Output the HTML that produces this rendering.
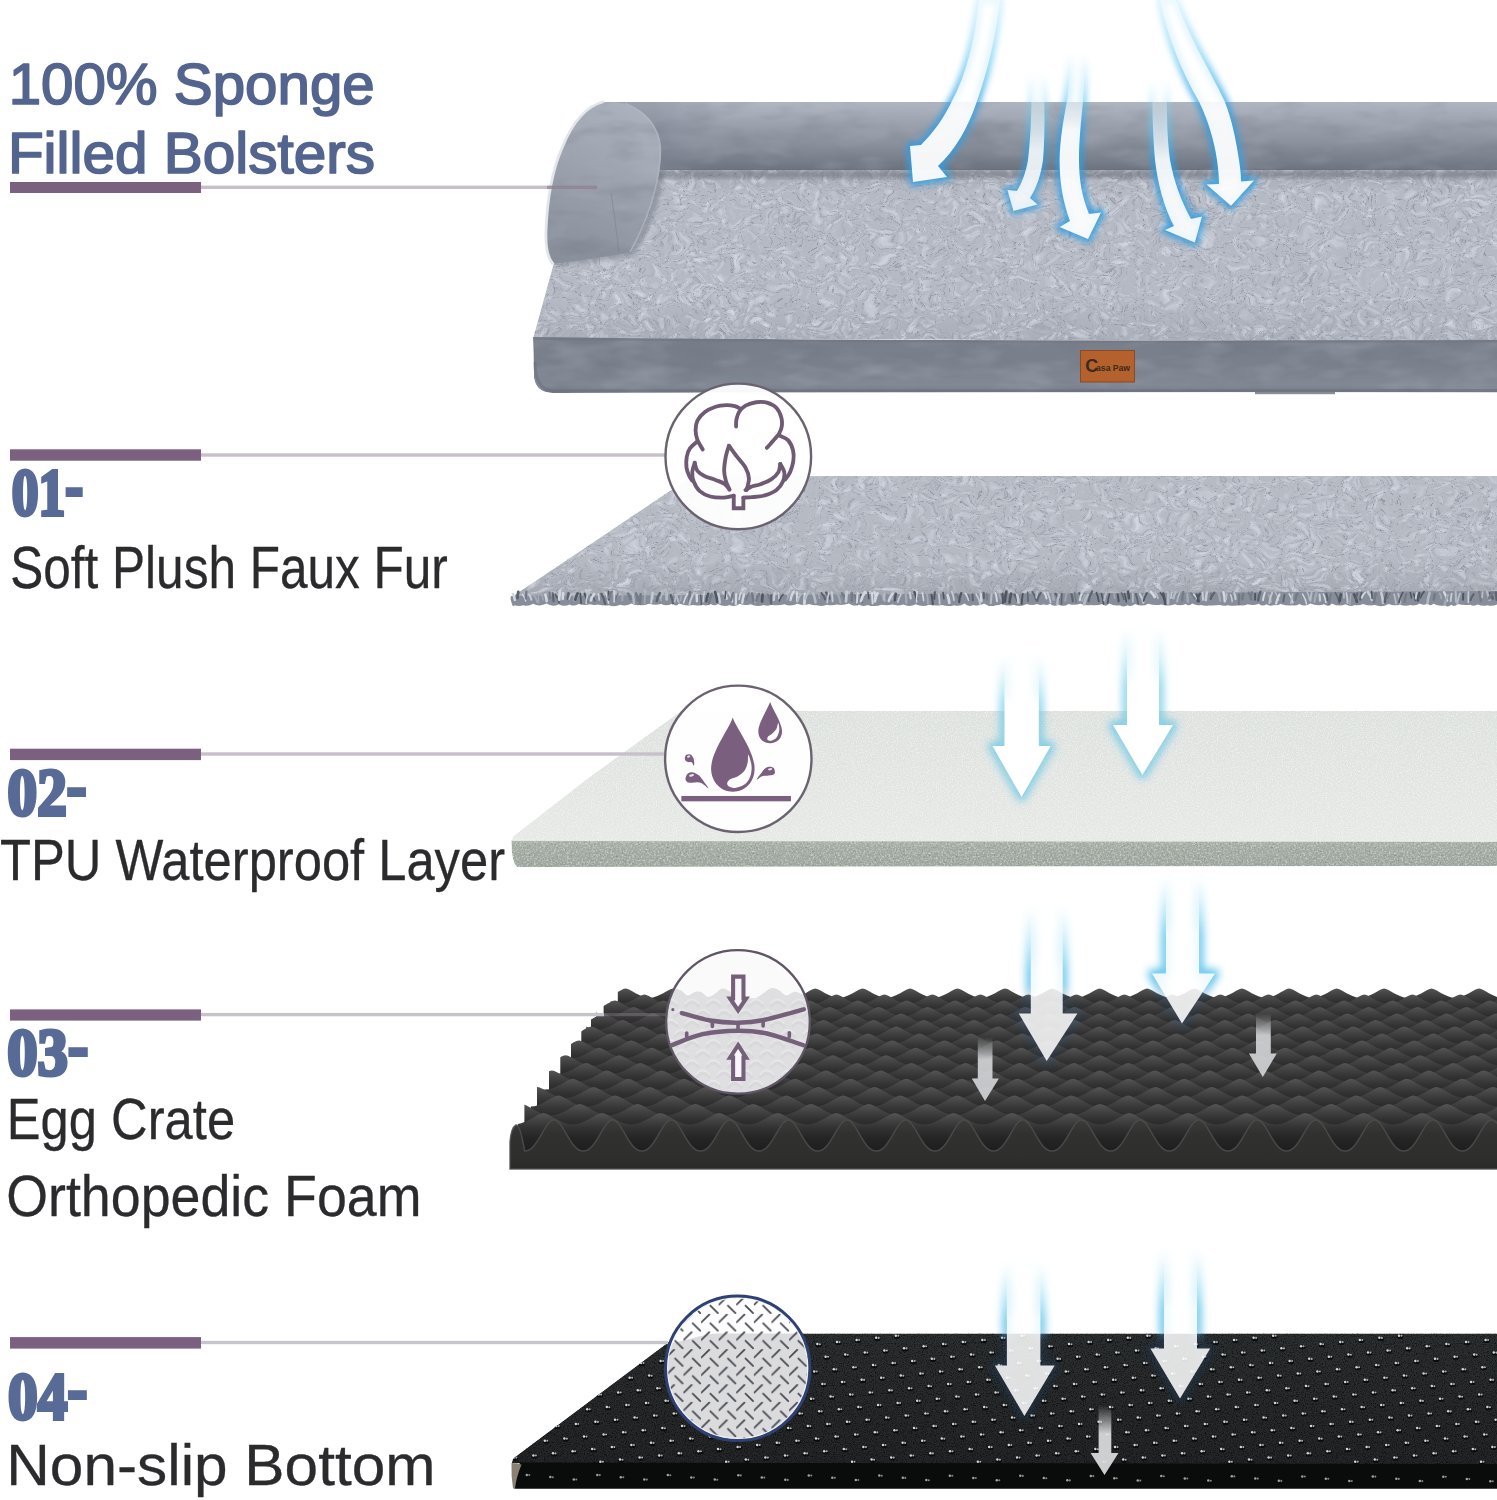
<!DOCTYPE html>
<html lang="en"><head><meta charset="utf-8"><title>Dog bed layers</title>
<style>html,body{margin:0;padding:0;background:#fff;overflow:hidden}svg{display:block}</style>
</head><body>
<svg width="1497" height="1500" viewBox="0 0 1497 1500">

<defs>
<filter id="fur" x="-4%" y="-12%" width="108%" height="124%" color-interpolation-filters="sRGB">
 <feTurbulence type="turbulence" baseFrequency="0.09 0.14" numOctaves="2" seed="3" result="n0"/>
 <feTurbulence type="fractalNoise" baseFrequency="0.035 0.05" numOctaves="2" seed="8" result="w"/>
 <feDisplacementMap in="n0" in2="w" scale="30" xChannelSelector="R" yChannelSelector="G" result="n"/>
 <feColorMatrix in="n" type="matrix" values="0 0 0 0 0.55  0 0 0 0 0.57  0 0 0 0 0.62  -6 0 0 0 0.62" result="d"/>
 <feColorMatrix in="n" type="matrix" values="0 0 0 0 0.55  0 0 0 0 0.57  0 0 0 0 0.62  0 -6 0 0 0.62" result="d2"/>
 <feColorMatrix in="n" type="matrix" values="0 0 0 0 0.82  0 0 0 0 0.84  0 0 0 0 0.88  0 0 1.8 0 -0.36" result="l"/>
 <feMerge result="m"><feMergeNode in="SourceGraphic"/><feMergeNode in="l"/><feMergeNode in="d"/><feMergeNode in="d2"/></feMerge>
 <feComposite in="m" in2="SourceAlpha" operator="in"/>
</filter>
<filter id="suede" x="0" y="0" width="100%" height="100%" color-interpolation-filters="sRGB">
 <feTurbulence type="fractalNoise" baseFrequency="0.018 0.05" numOctaves="3" seed="11" result="n"/>
 <feColorMatrix in="n" type="matrix" values="0 0 0 0 0.42  0 0 0 0 0.44  0 0 0 0 0.49  -0.8 0 0 0 0.42" result="d"/>
 <feColorMatrix in="n" type="matrix" values="0 0 0 0 0.70  0 0 0 0 0.72  0 0 0 0 0.76  0 0.8 0 0 -0.38" result="l"/>
 <feMerge result="m"><feMergeNode in="SourceGraphic"/><feMergeNode in="d"/><feMergeNode in="l"/></feMerge>
 <feComposite in="m" in2="SourceAlpha" operator="in"/>
</filter>
<filter id="grain" x="0" y="0" width="100%" height="100%" color-interpolation-filters="sRGB">
 <feTurbulence type="fractalNoise" baseFrequency="0.9" numOctaves="2" seed="5" result="n"/>
 <feColorMatrix in="n" type="matrix" values="0 0 0 0 0  0 0 0 0 0  0 0 0 0 0  -1.6 0 0 0 0.9" result="d"/>
 <feMerge result="m"><feMergeNode in="SourceGraphic"/><feMergeNode in="d"/></feMerge>
 <feComposite in="m" in2="SourceAlpha" operator="in"/>
</filter>
<filter id="grainT" x="0" y="0" width="100%" height="100%" color-interpolation-filters="sRGB">
 <feTurbulence type="fractalNoise" baseFrequency="0.55" numOctaves="2" seed="5" result="n"/>
 <feColorMatrix in="n" type="matrix" values="0 0 0 0 0.50  0 0 0 0 0.54  0 0 0 0 0.50  -2.2 0 0 0 1.0" result="d"/>
 <feColorMatrix in="n" type="matrix" values="0 0 0 0 0.82  0 0 0 0 0.85  0 0 0 0 0.82  0 2.2 0 0 -1.0" result="l"/>
 <feMerge result="m"><feMergeNode in="SourceGraphic"/><feMergeNode in="d"/><feMergeNode in="l"/></feMerge>
 <feComposite in="m" in2="SourceAlpha" operator="in"/>
</filter>
<filter id="grainL" x="0" y="0" width="100%" height="100%" color-interpolation-filters="sRGB">
 <feTurbulence type="fractalNoise" baseFrequency="0.8" numOctaves="2" seed="9" result="n"/>
 <feColorMatrix in="n" type="matrix" values="0 0 0 0 1  0 0 0 0 1  0 0 0 0 1  1.4 0 0 0 -0.62" result="d"/>
 <feMerge result="m"><feMergeNode in="SourceGraphic"/><feMergeNode in="d"/></feMerge>
 <feComposite in="m" in2="SourceAlpha" operator="in"/>
</filter>
<filter id="b2" x="-20%" y="-20%" width="140%" height="140%"><feGaussianBlur stdDeviation="2"/></filter>
<filter id="b3" x="-30%" y="-30%" width="160%" height="160%"><feGaussianBlur stdDeviation="3.2"/></filter>
<filter id="b4" x="-40%" y="-40%" width="180%" height="180%"><feGaussianBlur stdDeviation="4"/></filter>
<filter id="b5" x="-40%" y="-40%" width="180%" height="180%"><feGaussianBlur stdDeviation="5"/></filter>
<filter id="b8" x="-40%" y="-40%" width="180%" height="180%"><feGaussianBlur stdDeviation="8"/></filter>
<filter id="b1" x="-10%" y="-10%" width="120%" height="120%"><feGaussianBlur stdDeviation="0.7"/></filter>

<linearGradient id="gBack" x1="0" y1="102" x2="0" y2="174" gradientUnits="userSpaceOnUse">
 <stop offset="0" stop-color="#b0b6c1"/><stop offset="0.12" stop-color="#a8aeb9"/><stop offset="0.35" stop-color="#989eaa"/><stop offset="0.6" stop-color="#888e9a"/><stop offset="0.82" stop-color="#777d89"/><stop offset="1" stop-color="#686e79"/>
</linearGradient>
<linearGradient id="gArm" x1="640" y1="105" x2="560" y2="265" gradientUnits="userSpaceOnUse">
 <stop offset="0" stop-color="#adb3be"/><stop offset="0.45" stop-color="#9da3ae"/><stop offset="1" stop-color="#888e99"/>
</linearGradient>
<linearGradient id="gArmSh" x1="655" y1="0" x2="720" y2="0" gradientUnits="userSpaceOnUse">
 <stop offset="0" stop-color="#7b8290" stop-opacity=".4"/><stop offset="1" stop-color="#7b8290" stop-opacity="0"/>
</linearGradient>
<linearGradient id="gFront" x1="0" y1="338" x2="0" y2="393" gradientUnits="userSpaceOnUse">
 <stop offset="0" stop-color="#787e8a"/><stop offset="0.5" stop-color="#7a808c"/><stop offset="0.85" stop-color="#828894"/><stop offset="1" stop-color="#777d89"/>
</linearGradient>
<linearGradient id="gFurTop" x1="0" y1="172" x2="0" y2="340" gradientUnits="userSpaceOnUse">
 <stop offset="0" stop-color="#a4a9b3"/><stop offset="0.12" stop-color="#b4b9c3"/><stop offset="0.75" stop-color="#b4b9c3"/><stop offset="1" stop-color="#a9aeb8"/>
</linearGradient>
<linearGradient id="gMat" x1="0" y1="476" x2="0" y2="598" gradientUnits="userSpaceOnUse">
 <stop offset="0" stop-color="#b6bbc4"/><stop offset="0.7" stop-color="#b4b9c2"/><stop offset="1" stop-color="#a2a7b0"/>
</linearGradient>
<linearGradient id="gTpu" x1="0" y1="711" x2="0" y2="841" gradientUnits="userSpaceOnUse">
 <stop offset="0" stop-color="#dde1de"/><stop offset="1" stop-color="#e5e8e5"/>
</linearGradient>
<linearGradient id="gNS" x1="0" y1="1334" x2="0" y2="1464" gradientUnits="userSpaceOnUse"><stop offset="0" stop-color="#2d3031"/><stop offset="1" stop-color="#232526"/></linearGradient>
<linearGradient id="gTpuF" x1="0" y1="840" x2="0" y2="867" gradientUnits="userSpaceOnUse">
 <stop offset="0" stop-color="#adb4ac"/><stop offset="0.3" stop-color="#a4aba3"/><stop offset="1" stop-color="#9fa69f"/>
</linearGradient>
</defs>

<g id="bed">
<path d="M612,102 L1497,102 L1497,176 L640,176 Z" fill="url(#gBack)" filter="url(#suede)"/>
<path d="M606,102 L720,102 L720,176 L606,176 Z" fill="url(#gArmSh)"/>
<path d="M640,170 L1497,170 L1497,341.5 L533,338.5 L554,262 L628,253 Z" fill="url(#gFurTop)" filter="url(#fur)"/>
<path d="M650,171 L1497,171 L1497,178 L650,178 Z" fill="#5e646f" opacity="0.45" filter="url(#b2)"/>
<path d="M664,172 Q660,215 633,256 L556,267 L556,262 L628,250 Q652,210 656,172 Z" fill="#6a717e" opacity="0.45" filter="url(#b2)"/>
<path d="M533,337 Q900,341.5 1497,340 L1497,392.5 Q900,392 552,393 Q536,392 534,378 Z" fill="url(#gFront)" filter="url(#suede)"/>
<path d="M535,362 Q535,390 553,390.8 Q900,390 1497,390.5" stroke="#666c78" stroke-width="3" fill="none" opacity=".5" filter="url(#b1)"/>
<path d="M535,338.5 Q900,342.5 1497,341" stroke="#6f7581" stroke-width="2.4" fill="none" opacity=".55"/>
<path d="M603,102 Q625,100 641,111 Q664,128 661,158 Q657,205 631,253 L556,264 Q545,262 546,230 Q548,180 562,148 Q578,108 603,102 Z" fill="url(#gArm)" filter="url(#suede)"/>
<path d="M625,103 Q664,120 660,160 Q656,205 630,252" stroke="#b0b6c1" stroke-width="1.6" fill="none" opacity=".8"/>
<path d="M604,101.5 Q578,108 562,148 Q548,180 546,230 Q545,255 553,264" stroke="#e2e6ec" stroke-width="2.8" fill="none"/>
<path d="M611,193 Q616,225 619,254" stroke="#7d8491" stroke-width="1.1" fill="none" opacity=".6"/>
<rect x="1255" y="392" width="80" height="2.2" fill="#5a606b" opacity=".7"/>
<rect x="1080.5" y="350.5" width="54" height="31.5" fill="#b4612d" stroke="#8a4a25" stroke-width="1"/>
<text x="1085.3" y="372.3" font-family="'Liberation Sans',sans-serif" font-weight="bold" font-size="8.6" fill="#3b2a1f"><tspan font-size="18">C</tspan><tspan dx="-2.2" dy="-1.2">asa Paw</tspan></text>
</g>
<g id="mat">
<path d="M692,476 L1497,476 L1497,598 L510,598 Z" fill="url(#gMat)" filter="url(#fur)"/>
<path d="M511,596 L1497,591 L1497,604.5 Q1492.2,606.7 1487.4,605.2 Q1482.5,606.6 1477.7,604.6 Q1473.9,606.6 1470.2,604.7 Q1464.0,605.7 1457.8,604.0 Q1454.5,607.3 1451.1,604.8 Q1447.9,607.7 1444.8,605.3 Q1439.2,606.9 1433.5,603.7 Q1430.5,606.7 1427.4,603.5 Q1423.7,606.0 1419.9,603.5 Q1415.0,606.5 1410.2,605.1 Q1405.1,606.9 1400.0,604.4 Q1394.4,606.5 1388.7,604.0 Q1381.7,607.7 1374.8,605.1 Q1368.9,606.2 1363.1,603.9 Q1358.9,605.7 1354.8,604.9 Q1350.2,607.4 1345.6,604.2 Q1338.7,607.4 1331.9,603.4 Q1328.1,607.5 1324.2,604.3 Q1317.3,606.4 1310.4,603.5 Q1304.9,607.2 1299.4,603.9 Q1296.0,606.2 1292.7,605.3 Q1286.6,605.8 1280.6,603.9 Q1277.2,605.6 1273.8,605.0 Q1270.1,606.7 1266.4,604.3 Q1262.6,607.1 1258.8,603.7 Q1253.3,605.8 1247.7,604.2 Q1243.8,606.1 1240.0,605.3 Q1233.8,606.2 1227.6,605.2 Q1223.7,606.4 1219.9,605.1 Q1214.3,605.7 1208.7,605.4 Q1204.9,606.1 1201.0,604.9 Q1196.7,606.2 1192.4,603.5 Q1189.0,606.8 1185.7,603.9 Q1180.3,606.3 1174.9,604.3 Q1168.0,606.6 1161.2,604.5 Q1154.7,605.9 1148.3,603.7 Q1141.6,607.3 1135.0,603.9 Q1131.2,607.1 1127.5,605.3 Q1123.7,607.6 1119.9,605.2 Q1114.5,606.4 1109.1,603.6 Q1105.9,607.6 1102.8,603.9 Q1097.0,606.1 1091.1,605.0 Q1085.7,606.1 1080.4,603.8 Q1074.5,605.7 1068.6,603.9 Q1063.4,607.4 1058.1,604.6 Q1054.0,607.5 1049.9,603.8 Q1046.8,606.1 1043.7,604.3 Q1040.5,605.9 1037.3,604.1 Q1032.0,605.8 1026.7,604.1 Q1020.1,607.7 1013.6,604.7 Q1007.8,606.8 1002.0,603.7 Q998.9,605.5 995.8,605.2 Q989.9,607.6 984.1,603.4 Q978.6,606.6 973.1,604.9 Q968.8,607.7 964.5,603.6 Q959.3,607.1 954.1,605.2 Q948.2,607.0 942.2,605.0 Q935.6,606.3 928.9,604.8 Q922.3,607.4 915.7,604.2 Q909.5,607.4 903.4,604.5 Q897.9,606.3 892.4,604.6 Q887.0,605.7 881.5,604.7 Q874.5,607.4 867.6,604.9 Q863.0,607.1 858.5,604.6 Q853.7,607.3 848.9,603.6 Q842.9,605.6 836.9,604.6 Q832.0,606.0 827.1,604.8 Q822.1,606.9 817.1,605.2 Q813.1,605.5 809.1,604.0 Q803.4,605.9 797.6,603.7 Q791.0,607.0 784.4,604.3 Q777.8,606.2 771.3,604.7 Q767.5,606.4 763.7,605.0 Q757.0,607.4 750.4,604.2 Q745.0,606.2 739.7,603.7 Q734.7,607.3 729.7,605.1 Q723.9,607.6 718.0,604.0 Q714.4,606.5 710.7,604.0 Q706.8,606.4 703.0,604.7 Q698.0,606.2 693.0,605.1 Q686.1,606.5 679.2,603.5 Q676.0,607.4 672.9,603.5 Q667.1,606.8 661.2,604.0 Q655.1,605.5 648.9,603.7 Q644.1,605.6 639.3,605.1 Q635.3,605.8 631.4,603.5 Q625.8,606.5 620.3,604.7 Q614.7,607.3 609.1,605.3 Q603.4,605.9 597.6,604.4 Q593.9,605.5 590.2,604.3 Q584.3,605.9 578.5,603.9 Q574.1,607.0 569.7,604.4 Q564.2,607.2 558.8,604.2 Q552.6,607.5 546.5,603.6 Q539.7,607.1 533.0,603.7 Q528.2,606.9 523.4,605.2 Q518.9,606.8 514.4,605.2 Q513.2,607.6 512.0,604.3 L510.5,599 Z" fill="#878e9a"/>
<path d="M513.0,593.8 q1.4,3.1 1.8,6.1" stroke="#d3d8df" stroke-width="2.5" fill="none" stroke-linecap="round"/>
<path d="M518.3,591.9 q-0.7,3.2 -0.9,6.3" stroke="#5d6470" stroke-width="2.8" fill="none" stroke-linecap="round"/>
<path d="M522.4,594.3 q2.6,3.4 3.3,6.8" stroke="#d3d8df" stroke-width="1.4" fill="none" stroke-linecap="round"/>
<path d="M526.4,591.6 q-0.5,3.4 -0.6,6.9" stroke="#747b87" stroke-width="2.1" fill="none" stroke-linecap="round"/>
<path d="M529.0,594.3 q1.9,2.7 2.4,5.4" stroke="#c6ccd5" stroke-width="2.1" fill="none" stroke-linecap="round"/>
<path d="M533.5,594.7 q3.2,3.8 4.0,7.6" stroke="#a3aab5" stroke-width="2.1" fill="none" stroke-linecap="round"/>
<path d="M538.1,593.0 q0.5,4.9 0.6,9.8" stroke="#a3aab5" stroke-width="1.5" fill="none" stroke-linecap="round"/>
<path d="M541.2,593.3 q1.5,3.3 1.8,6.6" stroke="#a3aab5" stroke-width="1.6" fill="none" stroke-linecap="round"/>
<path d="M545.3,594.7 q1.1,3.2 1.4,6.4" stroke="#d3d8df" stroke-width="2.6" fill="none" stroke-linecap="round"/>
<path d="M549.6,592.6 q0.3,2.9 0.4,5.8" stroke="#747b87" stroke-width="2.2" fill="none" stroke-linecap="round"/>
<path d="M552.7,593.4 q0.7,3.9 0.8,7.8" stroke="#5d6470" stroke-width="2.2" fill="none" stroke-linecap="round"/>
<path d="M555.3,594.7 q3.1,4.0 3.9,8.0" stroke="#5d6470" stroke-width="2.1" fill="none" stroke-linecap="round"/>
<path d="M559.9,591.7 q-0.6,4.0 -0.7,8.0" stroke="#d3d8df" stroke-width="2.7" fill="none" stroke-linecap="round"/>
<path d="M563.2,593.2 q-0.4,2.8 -0.5,5.7" stroke="#d3d8df" stroke-width="2.7" fill="none" stroke-linecap="round"/>
<path d="M568.5,593.3 q-0.5,2.8 -0.6,5.6" stroke="#5d6470" stroke-width="2.7" fill="none" stroke-linecap="round"/>
<path d="M571.4,594.2 q-2.0,2.6 -2.4,5.1" stroke="#c6ccd5" stroke-width="1.4" fill="none" stroke-linecap="round"/>
<path d="M574.7,594.0 q-0.0,3.2 -0.0,6.3" stroke="#b6bcc6" stroke-width="2.4" fill="none" stroke-linecap="round"/>
<path d="M577.6,593.3 q-1.9,3.2 -2.4,6.4" stroke="#4f5661" stroke-width="2.6" fill="none" stroke-linecap="round"/>
<path d="M580.2,593.7 q0.7,4.8 0.9,9.5" stroke="#4f5661" stroke-width="1.7" fill="none" stroke-linecap="round"/>
<path d="M584.6,593.7 q2.2,4.0 2.8,7.9" stroke="#4f5661" stroke-width="2.2" fill="none" stroke-linecap="round"/>
<path d="M587.5,594.7 q-1.0,4.2 -1.2,8.5" stroke="#c6ccd5" stroke-width="1.8" fill="none" stroke-linecap="round"/>
<path d="M590.9,594.7 q3.2,3.1 4.0,6.2" stroke="#5d6470" stroke-width="1.6" fill="none" stroke-linecap="round"/>
<path d="M594.1,594.0 q-2.6,3.2 -3.2,6.4" stroke="#d3d8df" stroke-width="2.7" fill="none" stroke-linecap="round"/>
<path d="M598.3,594.0 q0.8,3.1 1.0,6.1" stroke="#d3d8df" stroke-width="1.4" fill="none" stroke-linecap="round"/>
<path d="M601.4,593.9 q3.0,5.0 3.7,10.0" stroke="#5d6470" stroke-width="2.4" fill="none" stroke-linecap="round"/>
<path d="M605.8,592.7 q2.1,5.2 2.7,10.5" stroke="#d3d8df" stroke-width="1.5" fill="none" stroke-linecap="round"/>
<path d="M608.6,591.6 q0.1,4.0 0.1,8.0" stroke="#4f5661" stroke-width="2.1" fill="none" stroke-linecap="round"/>
<path d="M611.7,591.9 q-2.2,3.0 -2.7,5.9" stroke="#747b87" stroke-width="2.7" fill="none" stroke-linecap="round"/>
<path d="M614.4,591.7 q-0.2,5.1 -0.3,10.2" stroke="#d3d8df" stroke-width="1.5" fill="none" stroke-linecap="round"/>
<path d="M618.1,593.0 q-1.9,3.5 -2.3,7.0" stroke="#747b87" stroke-width="1.4" fill="none" stroke-linecap="round"/>
<path d="M622.7,594.5 q-0.3,3.0 -0.4,6.0" stroke="#a3aab5" stroke-width="1.9" fill="none" stroke-linecap="round"/>
<path d="M628.0,593.6 q1.9,2.8 2.3,5.5" stroke="#747b87" stroke-width="2.7" fill="none" stroke-linecap="round"/>
<path d="M632.9,594.0 q0.8,4.9 1.0,9.7" stroke="#b6bcc6" stroke-width="2.2" fill="none" stroke-linecap="round"/>
<path d="M636.0,593.5 q1.7,3.4 2.1,6.9" stroke="#747b87" stroke-width="2.7" fill="none" stroke-linecap="round"/>
<path d="M640.7,594.2 q-0.6,4.7 -0.8,9.5" stroke="#747b87" stroke-width="2.6" fill="none" stroke-linecap="round"/>
<path d="M645.3,594.2 q-0.6,4.6 -0.8,9.2" stroke="#a3aab5" stroke-width="1.7" fill="none" stroke-linecap="round"/>
<path d="M650.2,592.6 q2.5,2.8 3.1,5.6" stroke="#a3aab5" stroke-width="2.7" fill="none" stroke-linecap="round"/>
<path d="M652.8,592.5 q-1.3,5.1 -1.6,10.3" stroke="#c6ccd5" stroke-width="2.3" fill="none" stroke-linecap="round"/>
<path d="M657.0,593.4 q3.2,3.6 4.0,7.1" stroke="#a3aab5" stroke-width="1.7" fill="none" stroke-linecap="round"/>
<path d="M659.9,592.9 q-2.5,4.1 -3.1,8.2" stroke="#5d6470" stroke-width="2.4" fill="none" stroke-linecap="round"/>
<path d="M663.2,592.9 q-1.9,2.6 -2.4,5.3" stroke="#b6bcc6" stroke-width="1.4" fill="none" stroke-linecap="round"/>
<path d="M666.4,592.5 q0.3,3.4 0.3,6.9" stroke="#b6bcc6" stroke-width="2.8" fill="none" stroke-linecap="round"/>
<path d="M670.6,595.0 q2.0,4.3 2.5,8.5" stroke="#5d6470" stroke-width="2.2" fill="none" stroke-linecap="round"/>
<path d="M675.1,594.8 q2.8,3.6 3.5,7.1" stroke="#b6bcc6" stroke-width="2.1" fill="none" stroke-linecap="round"/>
<path d="M678.1,593.2 q-2.8,4.2 -3.5,8.4" stroke="#b6bcc6" stroke-width="2.0" fill="none" stroke-linecap="round"/>
<path d="M682.2,593.6 q-1.4,3.5 -1.7,7.0" stroke="#a3aab5" stroke-width="1.8" fill="none" stroke-linecap="round"/>
<path d="M687.5,593.8 q-3.0,4.6 -3.8,9.1" stroke="#d3d8df" stroke-width="1.7" fill="none" stroke-linecap="round"/>
<path d="M690.1,592.0 q-0.7,4.6 -0.9,9.2" stroke="#747b87" stroke-width="2.4" fill="none" stroke-linecap="round"/>
<path d="M692.8,595.0 q-2.7,5.1 -3.4,9.5" stroke="#c6ccd5" stroke-width="2.0" fill="none" stroke-linecap="round"/>
<path d="M696.7,594.9 q0.1,3.2 0.2,6.3" stroke="#d3d8df" stroke-width="2.4" fill="none" stroke-linecap="round"/>
<path d="M700.6,594.9 q0.7,4.7 0.8,9.5" stroke="#5d6470" stroke-width="1.5" fill="none" stroke-linecap="round"/>
<path d="M704.4,591.9 q-0.9,4.9 -1.1,9.7" stroke="#c6ccd5" stroke-width="1.6" fill="none" stroke-linecap="round"/>
<path d="M708.2,593.8 q-1.5,3.8 -1.9,7.5" stroke="#4f5661" stroke-width="2.4" fill="none" stroke-linecap="round"/>
<path d="M711.8,594.1 q-2.3,4.7 -2.9,9.5" stroke="#747b87" stroke-width="2.4" fill="none" stroke-linecap="round"/>
<path d="M715.0,591.9 q1.8,5.0 2.3,9.9" stroke="#4f5661" stroke-width="2.6" fill="none" stroke-linecap="round"/>
<path d="M718.3,593.6 q1.3,4.5 1.6,9.0" stroke="#c6ccd5" stroke-width="2.3" fill="none" stroke-linecap="round"/>
<path d="M723.1,592.2 q3.1,3.2 3.8,6.4" stroke="#c6ccd5" stroke-width="2.6" fill="none" stroke-linecap="round"/>
<path d="M725.7,591.7 q-0.5,3.2 -0.6,6.5" stroke="#4f5661" stroke-width="1.5" fill="none" stroke-linecap="round"/>
<path d="M728.9,592.5 q2.6,4.6 3.3,9.2" stroke="#c6ccd5" stroke-width="2.2" fill="none" stroke-linecap="round"/>
<path d="M733.3,592.8 q-1.9,3.8 -2.3,7.6" stroke="#747b87" stroke-width="2.1" fill="none" stroke-linecap="round"/>
<path d="M736.2,594.5 q-0.3,4.7 -0.4,9.4" stroke="#d3d8df" stroke-width="2.3" fill="none" stroke-linecap="round"/>
<path d="M741.0,592.2 q-1.5,3.7 -1.9,7.3" stroke="#d3d8df" stroke-width="1.6" fill="none" stroke-linecap="round"/>
<path d="M744.0,594.4 q-1.3,4.1 -1.7,8.3" stroke="#d3d8df" stroke-width="2.4" fill="none" stroke-linecap="round"/>
<path d="M749.2,593.0 q-2.6,3.5 -3.2,7.0" stroke="#747b87" stroke-width="1.5" fill="none" stroke-linecap="round"/>
<path d="M752.0,593.5 q1.2,3.8 1.5,7.7" stroke="#747b87" stroke-width="2.6" fill="none" stroke-linecap="round"/>
<path d="M754.5,592.6 q0.7,5.0 0.8,10.0" stroke="#a3aab5" stroke-width="1.8" fill="none" stroke-linecap="round"/>
<path d="M759.2,593.9 q-2.3,3.3 -2.9,6.6" stroke="#747b87" stroke-width="2.3" fill="none" stroke-linecap="round"/>
<path d="M762.6,594.7 q-0.4,3.4 -0.5,6.8" stroke="#4f5661" stroke-width="2.7" fill="none" stroke-linecap="round"/>
<path d="M768.0,594.7 q1.9,3.7 2.4,7.4" stroke="#747b87" stroke-width="2.0" fill="none" stroke-linecap="round"/>
<path d="M771.1,594.9 q0.1,4.5 0.1,9.0" stroke="#5d6470" stroke-width="1.9" fill="none" stroke-linecap="round"/>
<path d="M774.7,592.8 q-0.7,3.6 -0.9,7.2" stroke="#c6ccd5" stroke-width="2.4" fill="none" stroke-linecap="round"/>
<path d="M778.3,592.9 q0.6,2.9 0.7,5.9" stroke="#c6ccd5" stroke-width="1.6" fill="none" stroke-linecap="round"/>
<path d="M783.1,594.6 q-3.1,3.3 -3.8,6.5" stroke="#4f5661" stroke-width="1.5" fill="none" stroke-linecap="round"/>
<path d="M786.1,592.5 q2.2,2.6 2.7,5.1" stroke="#b6bcc6" stroke-width="1.5" fill="none" stroke-linecap="round"/>
<path d="M790.2,594.3 q-2.7,2.7 -3.3,5.5" stroke="#a3aab5" stroke-width="1.5" fill="none" stroke-linecap="round"/>
<path d="M793.7,591.6 q-2.6,4.3 -3.2,8.6" stroke="#d3d8df" stroke-width="2.3" fill="none" stroke-linecap="round"/>
<path d="M796.9,592.3 q0.1,4.6 0.2,9.2" stroke="#d3d8df" stroke-width="2.0" fill="none" stroke-linecap="round"/>
<path d="M800.5,594.3 q-2.3,3.4 -2.9,6.8" stroke="#b6bcc6" stroke-width="2.2" fill="none" stroke-linecap="round"/>
<path d="M805.1,594.0 q-0.6,5.0 -0.7,10.0" stroke="#d3d8df" stroke-width="2.8" fill="none" stroke-linecap="round"/>
<path d="M808.7,591.5 q-2.6,3.5 -3.3,7.1" stroke="#b6bcc6" stroke-width="2.7" fill="none" stroke-linecap="round"/>
<path d="M813.1,593.3 q1.9,4.5 2.4,8.9" stroke="#b6bcc6" stroke-width="2.7" fill="none" stroke-linecap="round"/>
<path d="M818.3,592.4 q0.9,2.9 1.1,5.9" stroke="#a3aab5" stroke-width="1.6" fill="none" stroke-linecap="round"/>
<path d="M821.4,593.0 q3.0,3.3 3.8,6.6" stroke="#5d6470" stroke-width="2.1" fill="none" stroke-linecap="round"/>
<path d="M826.1,592.6 q2.7,2.9 3.4,5.9" stroke="#5d6470" stroke-width="2.5" fill="none" stroke-linecap="round"/>
<path d="M828.7,593.2 q-1.2,4.7 -1.5,9.4" stroke="#c6ccd5" stroke-width="1.7" fill="none" stroke-linecap="round"/>
<path d="M831.8,592.3 q0.6,4.5 0.8,8.9" stroke="#c6ccd5" stroke-width="2.0" fill="none" stroke-linecap="round"/>
<path d="M837.0,592.9 q2.8,5.0 3.5,10.0" stroke="#a3aab5" stroke-width="2.2" fill="none" stroke-linecap="round"/>
<path d="M842.0,593.2 q2.5,3.2 3.1,6.4" stroke="#747b87" stroke-width="2.3" fill="none" stroke-linecap="round"/>
<path d="M846.8,591.8 q-0.6,4.9 -0.8,9.7" stroke="#c6ccd5" stroke-width="2.7" fill="none" stroke-linecap="round"/>
<path d="M851.7,592.8 q0.1,4.0 0.1,7.9" stroke="#747b87" stroke-width="2.5" fill="none" stroke-linecap="round"/>
<path d="M854.4,594.7 q2.4,5.0 3.0,9.8" stroke="#747b87" stroke-width="2.0" fill="none" stroke-linecap="round"/>
<path d="M857.6,593.0 q-0.5,4.9 -0.7,9.8" stroke="#d3d8df" stroke-width="1.9" fill="none" stroke-linecap="round"/>
<path d="M860.9,594.5 q0.9,3.9 1.1,7.8" stroke="#4f5661" stroke-width="1.8" fill="none" stroke-linecap="round"/>
<path d="M865.0,592.0 q-3.2,4.6 -4.0,9.2" stroke="#d3d8df" stroke-width="2.7" fill="none" stroke-linecap="round"/>
<path d="M867.9,591.9 q0.7,3.5 0.9,6.9" stroke="#4f5661" stroke-width="1.5" fill="none" stroke-linecap="round"/>
<path d="M871.9,593.1 q0.6,5.1 0.7,10.3" stroke="#d3d8df" stroke-width="2.1" fill="none" stroke-linecap="round"/>
<path d="M874.4,592.2 q1.2,3.0 1.5,6.1" stroke="#d3d8df" stroke-width="2.6" fill="none" stroke-linecap="round"/>
<path d="M877.6,593.4 q-2.2,3.9 -2.7,7.9" stroke="#d3d8df" stroke-width="2.7" fill="none" stroke-linecap="round"/>
<path d="M881.0,592.9 q3.2,4.0 4.0,8.1" stroke="#a3aab5" stroke-width="2.4" fill="none" stroke-linecap="round"/>
<path d="M884.6,593.9 q-0.7,2.8 -0.8,5.6" stroke="#b6bcc6" stroke-width="2.4" fill="none" stroke-linecap="round"/>
<path d="M889.4,591.9 q2.3,3.7 2.9,7.4" stroke="#a3aab5" stroke-width="2.4" fill="none" stroke-linecap="round"/>
<path d="M892.7,593.5 q-3.1,3.8 -3.9,7.5" stroke="#d3d8df" stroke-width="2.5" fill="none" stroke-linecap="round"/>
<path d="M895.8,593.7 q-0.8,3.3 -1.0,6.6" stroke="#4f5661" stroke-width="2.4" fill="none" stroke-linecap="round"/>
<path d="M901.1,594.1 q-2.6,4.0 -3.3,8.1" stroke="#c6ccd5" stroke-width="1.7" fill="none" stroke-linecap="round"/>
<path d="M905.8,592.7 q0.4,5.1 0.5,10.2" stroke="#a3aab5" stroke-width="2.3" fill="none" stroke-linecap="round"/>
<path d="M909.7,592.8 q0.8,2.8 1.0,5.6" stroke="#c6ccd5" stroke-width="2.3" fill="none" stroke-linecap="round"/>
<path d="M914.3,592.1 q2.2,3.6 2.7,7.2" stroke="#4f5661" stroke-width="2.4" fill="none" stroke-linecap="round"/>
<path d="M917.1,591.6 q-0.4,5.2 -0.5,10.4" stroke="#d3d8df" stroke-width="1.5" fill="none" stroke-linecap="round"/>
<path d="M922.4,593.0 q0.9,3.9 1.2,7.8" stroke="#d3d8df" stroke-width="1.6" fill="none" stroke-linecap="round"/>
<path d="M926.9,593.2 q0.8,5.0 1.0,10.1" stroke="#a3aab5" stroke-width="2.0" fill="none" stroke-linecap="round"/>
<path d="M931.5,594.9 q1.0,4.7 1.3,9.3" stroke="#4f5661" stroke-width="2.1" fill="none" stroke-linecap="round"/>
<path d="M934.8,592.2 q-0.4,3.3 -0.5,6.7" stroke="#4f5661" stroke-width="1.9" fill="none" stroke-linecap="round"/>
<path d="M938.8,594.3 q0.7,4.8 0.9,9.5" stroke="#c6ccd5" stroke-width="1.8" fill="none" stroke-linecap="round"/>
<path d="M943.0,592.5 q0.7,3.1 0.9,6.3" stroke="#4f5661" stroke-width="1.6" fill="none" stroke-linecap="round"/>
<path d="M947.6,595.0 q1.4,3.9 1.7,7.8" stroke="#d3d8df" stroke-width="2.7" fill="none" stroke-linecap="round"/>
<path d="M951.8,591.6 q1.8,4.3 2.2,8.6" stroke="#c6ccd5" stroke-width="1.7" fill="none" stroke-linecap="round"/>
<path d="M956.0,593.9 q2.7,3.4 3.4,6.8" stroke="#747b87" stroke-width="1.8" fill="none" stroke-linecap="round"/>
<path d="M961.2,593.1 q-1.7,4.5 -2.1,9.0" stroke="#4f5661" stroke-width="2.2" fill="none" stroke-linecap="round"/>
<path d="M965.4,593.5 q2.6,3.2 3.3,6.5" stroke="#d3d8df" stroke-width="1.9" fill="none" stroke-linecap="round"/>
<path d="M968.3,594.8 q1.2,2.5 1.5,5.0" stroke="#747b87" stroke-width="1.7" fill="none" stroke-linecap="round"/>
<path d="M972.5,594.4 q0.3,3.0 0.4,6.0" stroke="#5d6470" stroke-width="2.0" fill="none" stroke-linecap="round"/>
<path d="M976.2,594.2 q3.2,5.1 4.0,10.1" stroke="#c6ccd5" stroke-width="1.8" fill="none" stroke-linecap="round"/>
<path d="M980.7,594.1 q0.6,3.5 0.7,7.1" stroke="#d3d8df" stroke-width="2.5" fill="none" stroke-linecap="round"/>
<path d="M983.7,592.9 q0.2,2.6 0.2,5.2" stroke="#5d6470" stroke-width="2.2" fill="none" stroke-linecap="round"/>
<path d="M986.7,593.3 q0.4,3.2 0.5,6.5" stroke="#747b87" stroke-width="1.5" fill="none" stroke-linecap="round"/>
<path d="M991.6,594.0 q-0.6,4.7 -0.8,9.3" stroke="#b6bcc6" stroke-width="2.2" fill="none" stroke-linecap="round"/>
<path d="M995.5,592.9 q1.2,4.2 1.5,8.4" stroke="#d3d8df" stroke-width="2.0" fill="none" stroke-linecap="round"/>
<path d="M998.8,594.6 q2.6,3.8 3.2,7.5" stroke="#a3aab5" stroke-width="2.0" fill="none" stroke-linecap="round"/>
<path d="M1002.6,593.5 q0.2,5.0 0.2,10.0" stroke="#4f5661" stroke-width="2.1" fill="none" stroke-linecap="round"/>
<path d="M1006.4,591.6 q-1.3,5.0 -1.6,10.0" stroke="#4f5661" stroke-width="2.7" fill="none" stroke-linecap="round"/>
<path d="M1011.1,593.6 q-1.2,4.6 -1.6,9.1" stroke="#4f5661" stroke-width="2.6" fill="none" stroke-linecap="round"/>
<path d="M1014.3,594.5 q2.4,3.2 3.0,6.3" stroke="#5d6470" stroke-width="2.1" fill="none" stroke-linecap="round"/>
<path d="M1017.2,594.7 q1.0,4.0 1.3,8.0" stroke="#c6ccd5" stroke-width="2.6" fill="none" stroke-linecap="round"/>
<path d="M1022.7,594.1 q-0.8,4.9 -1.0,9.8" stroke="#4f5661" stroke-width="2.0" fill="none" stroke-linecap="round"/>
<path d="M1027.6,592.3 q0.4,4.6 0.5,9.1" stroke="#5d6470" stroke-width="1.5" fill="none" stroke-linecap="round"/>
<path d="M1032.4,591.9 q2.9,4.0 3.6,8.0" stroke="#5d6470" stroke-width="1.8" fill="none" stroke-linecap="round"/>
<path d="M1037.1,591.6 q-0.4,3.0 -0.5,5.9" stroke="#b6bcc6" stroke-width="2.5" fill="none" stroke-linecap="round"/>
<path d="M1040.8,592.7 q-2.9,4.1 -3.6,8.2" stroke="#5d6470" stroke-width="2.0" fill="none" stroke-linecap="round"/>
<path d="M1044.3,592.6 q1.8,2.9 2.2,5.8" stroke="#d3d8df" stroke-width="2.1" fill="none" stroke-linecap="round"/>
<path d="M1047.4,592.5 q2.5,5.0 3.2,10.1" stroke="#c6ccd5" stroke-width="1.8" fill="none" stroke-linecap="round"/>
<path d="M1052.5,594.6 q0.9,2.5 1.1,5.1" stroke="#a3aab5" stroke-width="2.8" fill="none" stroke-linecap="round"/>
<path d="M1055.6,593.7 q2.4,3.0 3.0,6.1" stroke="#5d6470" stroke-width="2.3" fill="none" stroke-linecap="round"/>
<path d="M1059.0,594.4 q-1.4,5.1 -1.8,10.1" stroke="#b6bcc6" stroke-width="2.4" fill="none" stroke-linecap="round"/>
<path d="M1061.9,593.9 q-0.4,5.1 -0.4,10.2" stroke="#5d6470" stroke-width="1.6" fill="none" stroke-linecap="round"/>
<path d="M1067.0,591.9 q-1.5,4.4 -1.8,8.8" stroke="#a3aab5" stroke-width="1.7" fill="none" stroke-linecap="round"/>
<path d="M1071.5,594.3 q1.0,3.5 1.3,7.0" stroke="#5d6470" stroke-width="2.2" fill="none" stroke-linecap="round"/>
<path d="M1074.7,592.6 q1.1,5.0 1.3,10.1" stroke="#747b87" stroke-width="1.6" fill="none" stroke-linecap="round"/>
<path d="M1079.2,593.1 q2.7,2.7 3.3,5.4" stroke="#5d6470" stroke-width="2.1" fill="none" stroke-linecap="round"/>
<path d="M1081.8,593.6 q-1.6,3.3 -2.0,6.6" stroke="#d3d8df" stroke-width="2.2" fill="none" stroke-linecap="round"/>
<path d="M1084.8,595.0 q-2.1,3.0 -2.6,6.0" stroke="#a3aab5" stroke-width="2.2" fill="none" stroke-linecap="round"/>
<path d="M1087.8,594.6 q-3.0,5.2 -3.7,9.9" stroke="#b6bcc6" stroke-width="2.7" fill="none" stroke-linecap="round"/>
<path d="M1092.1,591.5 q-2.8,5.0 -3.5,9.9" stroke="#5d6470" stroke-width="2.2" fill="none" stroke-linecap="round"/>
<path d="M1096.5,592.8 q1.8,4.3 2.3,8.6" stroke="#4f5661" stroke-width="1.8" fill="none" stroke-linecap="round"/>
<path d="M1101.5,593.7 q1.6,5.2 2.0,10.4" stroke="#4f5661" stroke-width="1.6" fill="none" stroke-linecap="round"/>
<path d="M1106.4,592.1 q-1.7,4.2 -2.1,8.3" stroke="#b6bcc6" stroke-width="2.2" fill="none" stroke-linecap="round"/>
<path d="M1109.6,594.0 q-1.5,4.5 -1.9,9.0" stroke="#4f5661" stroke-width="1.7" fill="none" stroke-linecap="round"/>
<path d="M1113.9,593.2 q0.6,2.6 0.8,5.2" stroke="#a3aab5" stroke-width="1.5" fill="none" stroke-linecap="round"/>
<path d="M1117.7,594.6 q0.7,3.4 0.9,6.8" stroke="#4f5661" stroke-width="2.1" fill="none" stroke-linecap="round"/>
<path d="M1121.5,593.0 q1.9,3.2 2.4,6.4" stroke="#5d6470" stroke-width="1.6" fill="none" stroke-linecap="round"/>
<path d="M1124.5,593.7 q1.4,4.1 1.8,8.2" stroke="#4f5661" stroke-width="1.6" fill="none" stroke-linecap="round"/>
<path d="M1128.0,591.6 q0.8,3.4 1.0,6.7" stroke="#4f5661" stroke-width="2.5" fill="none" stroke-linecap="round"/>
<path d="M1132.8,593.2 q0.1,4.3 0.1,8.6" stroke="#b6bcc6" stroke-width="1.8" fill="none" stroke-linecap="round"/>
<path d="M1135.8,593.9 q1.8,4.8 2.3,9.6" stroke="#5d6470" stroke-width="1.8" fill="none" stroke-linecap="round"/>
<path d="M1139.7,593.9 q2.9,4.4 3.7,8.9" stroke="#c6ccd5" stroke-width="2.1" fill="none" stroke-linecap="round"/>
<path d="M1144.4,595.0 q-0.3,2.9 -0.4,5.8" stroke="#a3aab5" stroke-width="2.8" fill="none" stroke-linecap="round"/>
<path d="M1147.0,592.9 q-2.6,3.9 -3.3,7.9" stroke="#4f5661" stroke-width="1.8" fill="none" stroke-linecap="round"/>
<path d="M1150.7,591.8 q3.2,2.6 4.0,5.2" stroke="#d3d8df" stroke-width="2.8" fill="none" stroke-linecap="round"/>
<path d="M1155.1,592.5 q2.3,2.8 2.8,5.7" stroke="#b6bcc6" stroke-width="2.0" fill="none" stroke-linecap="round"/>
<path d="M1160.4,592.8 q3.1,3.4 3.8,6.9" stroke="#4f5661" stroke-width="1.7" fill="none" stroke-linecap="round"/>
<path d="M1163.3,593.5 q1.5,5.2 1.9,10.5" stroke="#4f5661" stroke-width="2.4" fill="none" stroke-linecap="round"/>
<path d="M1168.4,593.6 q-0.2,4.9 -0.3,9.9" stroke="#b6bcc6" stroke-width="2.7" fill="none" stroke-linecap="round"/>
<path d="M1171.6,592.8 q-0.5,2.6 -0.7,5.3" stroke="#c6ccd5" stroke-width="1.7" fill="none" stroke-linecap="round"/>
<path d="M1175.7,592.1 q-1.8,3.1 -2.3,6.1" stroke="#b6bcc6" stroke-width="2.5" fill="none" stroke-linecap="round"/>
<path d="M1179.6,593.2 q-2.0,4.2 -2.5,8.4" stroke="#b6bcc6" stroke-width="1.7" fill="none" stroke-linecap="round"/>
<path d="M1183.3,591.8 q-0.9,4.4 -1.1,8.8" stroke="#747b87" stroke-width="2.3" fill="none" stroke-linecap="round"/>
<path d="M1187.3,594.1 q0.4,3.9 0.5,7.8" stroke="#a3aab5" stroke-width="2.4" fill="none" stroke-linecap="round"/>
<path d="M1190.7,592.8 q2.8,2.9 3.5,5.8" stroke="#747b87" stroke-width="1.6" fill="none" stroke-linecap="round"/>
<path d="M1193.9,594.4 q3.2,2.8 4.0,5.7" stroke="#d3d8df" stroke-width="1.9" fill="none" stroke-linecap="round"/>
<path d="M1196.6,594.6 q1.7,3.4 2.2,6.8" stroke="#4f5661" stroke-width="2.3" fill="none" stroke-linecap="round"/>
<path d="M1200.0,593.6 q-2.0,3.8 -2.5,7.7" stroke="#4f5661" stroke-width="2.2" fill="none" stroke-linecap="round"/>
<path d="M1202.6,592.6 q0.3,3.7 0.4,7.3" stroke="#c6ccd5" stroke-width="2.1" fill="none" stroke-linecap="round"/>
<path d="M1206.8,592.6 q-0.8,3.7 -1.0,7.5" stroke="#c6ccd5" stroke-width="2.6" fill="none" stroke-linecap="round"/>
<path d="M1210.9,593.1 q0.1,2.9 0.1,5.8" stroke="#747b87" stroke-width="1.7" fill="none" stroke-linecap="round"/>
<path d="M1214.3,592.7 q-2.9,3.1 -3.7,6.2" stroke="#5d6470" stroke-width="2.4" fill="none" stroke-linecap="round"/>
<path d="M1218.2,591.5 q1.6,4.6 1.9,9.2" stroke="#a3aab5" stroke-width="2.3" fill="none" stroke-linecap="round"/>
<path d="M1223.5,592.3 q1.1,4.4 1.3,8.8" stroke="#d3d8df" stroke-width="2.6" fill="none" stroke-linecap="round"/>
<path d="M1226.7,593.7 q-0.5,2.7 -0.6,5.5" stroke="#b6bcc6" stroke-width="2.1" fill="none" stroke-linecap="round"/>
<path d="M1230.6,594.8 q1.3,3.3 1.6,6.6" stroke="#c6ccd5" stroke-width="1.6" fill="none" stroke-linecap="round"/>
<path d="M1234.3,593.2 q1.1,3.0 1.3,5.9" stroke="#c6ccd5" stroke-width="2.1" fill="none" stroke-linecap="round"/>
<path d="M1239.1,594.7 q-0.1,4.7 -0.2,9.4" stroke="#747b87" stroke-width="2.4" fill="none" stroke-linecap="round"/>
<path d="M1243.2,594.0 q-0.7,2.6 -0.9,5.1" stroke="#747b87" stroke-width="2.7" fill="none" stroke-linecap="round"/>
<path d="M1248.5,592.5 q2.2,3.5 2.8,7.1" stroke="#747b87" stroke-width="2.1" fill="none" stroke-linecap="round"/>
<path d="M1251.9,592.4 q-1.0,2.6 -1.2,5.1" stroke="#747b87" stroke-width="2.2" fill="none" stroke-linecap="round"/>
<path d="M1255.2,593.8 q-0.2,3.0 -0.2,6.0" stroke="#4f5661" stroke-width="1.9" fill="none" stroke-linecap="round"/>
<path d="M1260.4,591.6 q-1.8,4.4 -2.3,8.9" stroke="#5d6470" stroke-width="2.3" fill="none" stroke-linecap="round"/>
<path d="M1264.8,592.9 q-1.4,3.6 -1.8,7.3" stroke="#d3d8df" stroke-width="2.0" fill="none" stroke-linecap="round"/>
<path d="M1268.6,594.9 q1.9,3.6 2.4,7.1" stroke="#a3aab5" stroke-width="2.1" fill="none" stroke-linecap="round"/>
<path d="M1272.1,592.8 q-2.2,5.2 -2.8,10.4" stroke="#c6ccd5" stroke-width="1.8" fill="none" stroke-linecap="round"/>
<path d="M1275.3,592.3 q2.7,3.9 3.4,7.9" stroke="#b6bcc6" stroke-width="1.4" fill="none" stroke-linecap="round"/>
<path d="M1279.5,594.5 q-2.7,4.6 -3.4,9.2" stroke="#d3d8df" stroke-width="2.2" fill="none" stroke-linecap="round"/>
<path d="M1284.5,594.9 q-1.0,3.4 -1.2,6.8" stroke="#5d6470" stroke-width="1.8" fill="none" stroke-linecap="round"/>
<path d="M1289.1,593.9 q3.0,4.4 3.7,8.8" stroke="#d3d8df" stroke-width="1.6" fill="none" stroke-linecap="round"/>
<path d="M1292.6,593.9 q-1.3,4.7 -1.7,9.4" stroke="#b6bcc6" stroke-width="1.8" fill="none" stroke-linecap="round"/>
<path d="M1297.4,593.4 q-1.6,3.2 -2.0,6.3" stroke="#747b87" stroke-width="2.4" fill="none" stroke-linecap="round"/>
<path d="M1302.6,594.1 q3.1,4.9 3.9,9.8" stroke="#d3d8df" stroke-width="1.5" fill="none" stroke-linecap="round"/>
<path d="M1307.2,591.9 q1.7,3.7 2.2,7.5" stroke="#b6bcc6" stroke-width="1.5" fill="none" stroke-linecap="round"/>
<path d="M1311.6,592.9 q-1.0,3.8 -1.2,7.7" stroke="#b6bcc6" stroke-width="2.1" fill="none" stroke-linecap="round"/>
<path d="M1316.5,592.9 q-1.6,4.5 -2.0,8.9" stroke="#a3aab5" stroke-width="2.4" fill="none" stroke-linecap="round"/>
<path d="M1319.5,594.5 q0.4,3.1 0.5,6.1" stroke="#c6ccd5" stroke-width="2.2" fill="none" stroke-linecap="round"/>
<path d="M1323.3,594.0 q2.1,4.2 2.6,8.4" stroke="#d3d8df" stroke-width="1.6" fill="none" stroke-linecap="round"/>
<path d="M1326.4,593.7 q1.0,3.3 1.2,6.6" stroke="#5d6470" stroke-width="2.1" fill="none" stroke-linecap="round"/>
<path d="M1331.0,594.3 q-1.5,5.1 -1.9,10.1" stroke="#747b87" stroke-width="2.0" fill="none" stroke-linecap="round"/>
<path d="M1335.4,592.9 q3.1,5.1 3.9,10.1" stroke="#5d6470" stroke-width="1.6" fill="none" stroke-linecap="round"/>
<path d="M1340.9,594.5 q-0.9,3.0 -1.1,6.1" stroke="#4f5661" stroke-width="2.8" fill="none" stroke-linecap="round"/>
<path d="M1343.7,592.7 q0.3,2.6 0.3,5.1" stroke="#b6bcc6" stroke-width="1.6" fill="none" stroke-linecap="round"/>
<path d="M1346.4,593.0 q1.0,4.9 1.2,9.8" stroke="#c6ccd5" stroke-width="1.9" fill="none" stroke-linecap="round"/>
<path d="M1350.8,594.2 q-0.7,5.2 -0.9,10.3" stroke="#a3aab5" stroke-width="1.7" fill="none" stroke-linecap="round"/>
<path d="M1354.1,594.5 q2.1,3.7 2.7,7.4" stroke="#4f5661" stroke-width="2.7" fill="none" stroke-linecap="round"/>
<path d="M1357.4,593.2 q-1.1,2.8 -1.4,5.7" stroke="#5d6470" stroke-width="1.8" fill="none" stroke-linecap="round"/>
<path d="M1361.6,592.5 q-1.1,3.6 -1.4,7.2" stroke="#5d6470" stroke-width="2.1" fill="none" stroke-linecap="round"/>
<path d="M1365.2,592.4 q-2.8,2.6 -3.5,5.3" stroke="#d3d8df" stroke-width="1.8" fill="none" stroke-linecap="round"/>
<path d="M1367.9,592.1 q3.2,3.8 4.0,7.7" stroke="#c6ccd5" stroke-width="2.8" fill="none" stroke-linecap="round"/>
<path d="M1371.6,591.6 q0.4,3.5 0.5,6.9" stroke="#4f5661" stroke-width="1.5" fill="none" stroke-linecap="round"/>
<path d="M1375.8,593.8 q-1.4,4.2 -1.8,8.4" stroke="#747b87" stroke-width="2.6" fill="none" stroke-linecap="round"/>
<path d="M1381.3,593.1 q1.4,4.8 1.8,9.6" stroke="#c6ccd5" stroke-width="2.6" fill="none" stroke-linecap="round"/>
<path d="M1386.6,593.4 q-1.5,4.4 -1.8,8.7" stroke="#5d6470" stroke-width="2.5" fill="none" stroke-linecap="round"/>
<path d="M1390.0,593.3 q-1.9,2.5 -2.3,5.1" stroke="#747b87" stroke-width="1.4" fill="none" stroke-linecap="round"/>
<path d="M1394.1,594.3 q1.5,4.7 1.9,9.4" stroke="#b6bcc6" stroke-width="1.8" fill="none" stroke-linecap="round"/>
<path d="M1398.2,593.8 q1.7,4.7 2.1,9.4" stroke="#b6bcc6" stroke-width="2.0" fill="none" stroke-linecap="round"/>
<path d="M1402.8,592.4 q-3.0,5.0 -3.8,10.0" stroke="#4f5661" stroke-width="1.6" fill="none" stroke-linecap="round"/>
<path d="M1406.3,594.0 q-1.4,3.9 -1.8,7.8" stroke="#747b87" stroke-width="2.3" fill="none" stroke-linecap="round"/>
<path d="M1410.2,592.6 q1.0,2.7 1.2,5.4" stroke="#4f5661" stroke-width="1.5" fill="none" stroke-linecap="round"/>
<path d="M1413.7,594.1 q1.6,3.1 1.9,6.2" stroke="#4f5661" stroke-width="1.8" fill="none" stroke-linecap="round"/>
<path d="M1416.8,592.7 q-0.8,2.9 -1.0,5.9" stroke="#c6ccd5" stroke-width="2.0" fill="none" stroke-linecap="round"/>
<path d="M1419.3,593.3 q-1.1,3.6 -1.4,7.2" stroke="#4f5661" stroke-width="2.6" fill="none" stroke-linecap="round"/>
<path d="M1424.1,591.6 q-2.8,3.0 -3.5,6.0" stroke="#4f5661" stroke-width="1.6" fill="none" stroke-linecap="round"/>
<path d="M1429.6,593.0 q-1.8,5.1 -2.2,10.3" stroke="#b6bcc6" stroke-width="2.5" fill="none" stroke-linecap="round"/>
<path d="M1434.7,594.3 q-0.7,2.7 -0.9,5.4" stroke="#747b87" stroke-width="2.6" fill="none" stroke-linecap="round"/>
<path d="M1439.6,593.3 q1.5,2.5 1.8,5.1" stroke="#a3aab5" stroke-width="1.9" fill="none" stroke-linecap="round"/>
<path d="M1444.0,592.2 q2.5,4.2 3.1,8.4" stroke="#d3d8df" stroke-width="2.4" fill="none" stroke-linecap="round"/>
<path d="M1447.8,594.9 q-2.4,5.0 -3.0,9.6" stroke="#a3aab5" stroke-width="2.4" fill="none" stroke-linecap="round"/>
<path d="M1451.6,593.8 q-0.7,3.7 -0.9,7.3" stroke="#c6ccd5" stroke-width="1.9" fill="none" stroke-linecap="round"/>
<path d="M1455.7,591.6 q0.2,5.0 0.2,10.1" stroke="#b6bcc6" stroke-width="2.0" fill="none" stroke-linecap="round"/>
<path d="M1460.0,593.6 q-2.2,5.1 -2.8,10.1" stroke="#b6bcc6" stroke-width="1.9" fill="none" stroke-linecap="round"/>
<path d="M1463.3,593.7 q-0.2,3.0 -0.2,6.0" stroke="#4f5661" stroke-width="2.0" fill="none" stroke-linecap="round"/>
<path d="M1468.4,591.9 q-0.1,5.2 -0.1,10.4" stroke="#c6ccd5" stroke-width="1.7" fill="none" stroke-linecap="round"/>
<path d="M1473.7,594.3 q-2.5,2.9 -3.1,5.8" stroke="#5d6470" stroke-width="2.1" fill="none" stroke-linecap="round"/>
<path d="M1479.1,591.7 q1.4,4.9 1.7,9.8" stroke="#747b87" stroke-width="2.1" fill="none" stroke-linecap="round"/>
<path d="M1482.7,592.2 q-0.5,2.5 -0.6,5.1" stroke="#b6bcc6" stroke-width="1.8" fill="none" stroke-linecap="round"/>
<path d="M1487.1,591.8 q1.8,4.0 2.3,8.1" stroke="#b6bcc6" stroke-width="2.6" fill="none" stroke-linecap="round"/>
<path d="M1489.8,593.2 q2.4,2.7 3.0,5.3" stroke="#5d6470" stroke-width="2.5" fill="none" stroke-linecap="round"/>
<path d="M1492.8,592.8 q-3.0,2.8 -3.7,5.6" stroke="#747b87" stroke-width="2.7" fill="none" stroke-linecap="round"/>
<path d="M1495.9,592.5 q0.7,3.6 0.9,7.3" stroke="#5d6470" stroke-width="2.6" fill="none" stroke-linecap="round"/>
</g>
<g id="tpu">
<path d="M681,711 L1497,711 L1497,841.5 L512,840.5 L513,836.5 L585.5,780 Z" fill="url(#gTpu)" filter="url(#grainL)"/>
<path d="M511.5,840 L1497,841 L1497,866 L517,867 Q511,861 511.5,840 Z" fill="url(#gTpuF)" filter="url(#grainT)"/>
<path d="M512,840.3 L1497,841.3" stroke="#f2f4f2" stroke-width="1.2" opacity=".8"/>
</g>
<g id="foam">
<defs><linearGradient id="gRow" x1="0" y1="0" x2="0" y2="1"><stop offset="0" stop-color="#545454"/><stop offset="0.16" stop-color="#444444"/><stop offset="0.36" stop-color="#323232"/><stop offset="0.6" stop-color="#252525"/><stop offset="1" stop-color="#1c1c1c"/></linearGradient><linearGradient id="gFoamF" x1="0" y1="1118" x2="0" y2="1170" gradientUnits="userSpaceOnUse"><stop offset="0" stop-color="#3d3d3c"/><stop offset="0.3" stop-color="#313130"/><stop offset="0.8" stop-color="#2e2e2d"/><stop offset="1" stop-color="#292a27"/></linearGradient><clipPath id="cFoam"><path d="M500,960 L1497,960 L1497,1160 L500,1160 Z"/></clipPath></defs>
<g clip-path="url(#cFoam)" fill="url(#gRow)">
<clipPath id="cr0"><rect x="617.8" y="900" width="1100" height="300"/></clipPath>
<path d="M554.6,997.8c10,0 19,-9.3 23.7,-9.3c4.7,0 13.8,9.3 23.7,9.3c10,0 19,-9.3 23.7,-9.3c4.7,0 13.8,9.3 23.7,9.3c10,0 19,-9.3 23.7,-9.3c4.7,0 13.8,9.3 23.7,9.3c10,0 19,-9.3 23.7,-9.3c4.7,0 13.8,9.3 23.7,9.3c10,0 19,-9.3 23.7,-9.3c4.7,0 13.8,9.3 23.7,9.3c10,0 19,-9.3 23.7,-9.3c4.7,0 13.8,9.3 23.7,9.3c10,0 19,-9.3 23.7,-9.3c4.7,0 13.8,9.3 23.7,9.3c10,0 19,-9.3 23.7,-9.3c4.7,0 13.8,9.3 23.7,9.3c10,0 19,-9.3 23.7,-9.3c4.7,0 13.8,9.3 23.7,9.3c10,0 19,-9.3 23.7,-9.3c4.7,0 13.8,9.3 23.7,9.3c10,0 19,-9.3 23.7,-9.3c4.7,0 13.8,9.3 23.7,9.3c10,0 19,-9.3 23.7,-9.3c4.7,0 13.8,9.3 23.7,9.3c10,0 19,-9.3 23.7,-9.3c4.7,0 13.8,9.3 23.7,9.3c10,0 19,-9.3 23.7,-9.3c4.7,0 13.8,9.3 23.7,9.3c10,0 19,-9.3 23.7,-9.3c4.7,0 13.8,9.3 23.7,9.3c10,0 19,-9.3 23.7,-9.3c4.7,0 13.8,9.3 23.7,9.3c10,0 19,-9.3 23.7,-9.3c4.7,0 13.8,9.3 23.7,9.3c10,0 19,-9.3 23.7,-9.3c4.7,0 13.8,9.3 23.7,9.3c10,0 19,-9.3 23.7,-9.3c4.7,0 13.8,9.3 23.7,9.3c10,0 19,-9.3 23.7,-9.3c4.7,0 13.8,9.3 23.7,9.3c10,0 19,-9.3 23.7,-9.3c4.7,0 13.8,9.3 23.7,9.3V1022.1H554.6Z" clip-path="url(#cr0)"/>
<clipPath id="cr1"><rect x="610.8" y="900" width="1100" height="300"/></clipPath>
<path d="M572.4,1003.9c10.1,0 19.2,-9.4 24,-9.4c4.8,0 13.9,9.4 24,9.4c10.1,0 19.2,-9.4 24,-9.4c4.8,0 13.9,9.4 24,9.4c10.1,0 19.2,-9.4 24,-9.4c4.8,0 13.9,9.4 24,9.4c10.1,0 19.2,-9.4 24,-9.4c4.8,0 13.9,9.4 24,9.4c10.1,0 19.2,-9.4 24,-9.4c4.8,0 13.9,9.4 24,9.4c10.1,0 19.2,-9.4 24,-9.4c4.8,0 13.9,9.4 24,9.4c10.1,0 19.2,-9.4 24,-9.4c4.8,0 13.9,9.4 24,9.4c10.1,0 19.2,-9.4 24,-9.4c4.8,0 13.9,9.4 24,9.4c10.1,0 19.2,-9.4 24,-9.4c4.8,0 13.9,9.4 24,9.4c10.1,0 19.2,-9.4 24,-9.4c4.8,0 13.9,9.4 24,9.4c10.1,0 19.2,-9.4 24,-9.4c4.8,0 13.9,9.4 24,9.4c10.1,0 19.2,-9.4 24,-9.4c4.8,0 13.9,9.4 24,9.4c10.1,0 19.2,-9.4 24,-9.4c4.8,0 13.9,9.4 24,9.4c10.1,0 19.2,-9.4 24,-9.4c4.8,0 13.9,9.4 24,9.4c10.1,0 19.2,-9.4 24,-9.4c4.8,0 13.9,9.4 24,9.4c10.1,0 19.2,-9.4 24,-9.4c4.8,0 13.9,9.4 24,9.4c10.1,0 19.2,-9.4 24,-9.4c4.8,0 13.9,9.4 24,9.4c10.1,0 19.2,-9.4 24,-9.4c4.8,0 13.9,9.4 24,9.4c10.1,0 19.2,-9.4 24,-9.4c4.8,0 13.9,9.4 24,9.4c10.1,0 19.2,-9.4 24,-9.4c4.8,0 13.9,9.4 24,9.4V1028.5H572.4Z" clip-path="url(#cr1)"/>
<clipPath id="cr2"><rect x="603.6" y="900" width="1100" height="300"/></clipPath>
<path d="M542.1,1010.1c10.2,0 19.4,-9.5 24.3,-9.5c4.9,0 14.1,9.5 24.3,9.5c10.2,0 19.4,-9.5 24.3,-9.5c4.9,0 14.1,9.5 24.3,9.5c10.2,0 19.4,-9.5 24.3,-9.5c4.9,0 14.1,9.5 24.3,9.5c10.2,0 19.4,-9.5 24.3,-9.5c4.9,0 14.1,9.5 24.3,9.5c10.2,0 19.4,-9.5 24.3,-9.5c4.9,0 14.1,9.5 24.3,9.5c10.2,0 19.4,-9.5 24.3,-9.5c4.9,0 14.1,9.5 24.3,9.5c10.2,0 19.4,-9.5 24.3,-9.5c4.9,0 14.1,9.5 24.3,9.5c10.2,0 19.4,-9.5 24.3,-9.5c4.9,0 14.1,9.5 24.3,9.5c10.2,0 19.4,-9.5 24.3,-9.5c4.9,0 14.1,9.5 24.3,9.5c10.2,0 19.4,-9.5 24.3,-9.5c4.9,0 14.1,9.5 24.3,9.5c10.2,0 19.4,-9.5 24.3,-9.5c4.9,0 14.1,9.5 24.3,9.5c10.2,0 19.4,-9.5 24.3,-9.5c4.9,0 14.1,9.5 24.3,9.5c10.2,0 19.4,-9.5 24.3,-9.5c4.9,0 14.1,9.5 24.3,9.5c10.2,0 19.4,-9.5 24.3,-9.5c4.9,0 14.1,9.5 24.3,9.5c10.2,0 19.4,-9.5 24.3,-9.5c4.9,0 14.1,9.5 24.3,9.5c10.2,0 19.4,-9.5 24.3,-9.5c4.9,0 14.1,9.5 24.3,9.5c10.2,0 19.4,-9.5 24.3,-9.5c4.9,0 14.1,9.5 24.3,9.5c10.2,0 19.4,-9.5 24.3,-9.5c4.9,0 14.1,9.5 24.3,9.5c10.2,0 19.4,-9.5 24.3,-9.5c4.9,0 14.1,9.5 24.3,9.5c10.2,0 19.4,-9.5 24.3,-9.5c4.9,0 14.1,9.5 24.3,9.5V1035H542.1Z" clip-path="url(#cr2)"/>
<clipPath id="cr3"><rect x="596.3" y="900" width="1100" height="300"/></clipPath>
<path d="M560.1,1016.5c10.3,0 19.6,-9.6 24.5,-9.6c4.9,0 14.2,9.6 24.5,9.6c10.3,0 19.6,-9.6 24.5,-9.6c4.9,0 14.2,9.6 24.5,9.6c10.3,0 19.6,-9.6 24.5,-9.6c4.9,0 14.2,9.6 24.5,9.6c10.3,0 19.6,-9.6 24.5,-9.6c4.9,0 14.2,9.6 24.5,9.6c10.3,0 19.6,-9.6 24.5,-9.6c4.9,0 14.2,9.6 24.5,9.6c10.3,0 19.6,-9.6 24.5,-9.6c4.9,0 14.2,9.6 24.5,9.6c10.3,0 19.6,-9.6 24.5,-9.6c4.9,0 14.2,9.6 24.5,9.6c10.3,0 19.6,-9.6 24.5,-9.6c4.9,0 14.2,9.6 24.5,9.6c10.3,0 19.6,-9.6 24.5,-9.6c4.9,0 14.2,9.6 24.5,9.6c10.3,0 19.6,-9.6 24.5,-9.6c4.9,0 14.2,9.6 24.5,9.6c10.3,0 19.6,-9.6 24.5,-9.6c4.9,0 14.2,9.6 24.5,9.6c10.3,0 19.6,-9.6 24.5,-9.6c4.9,0 14.2,9.6 24.5,9.6c10.3,0 19.6,-9.6 24.5,-9.6c4.9,0 14.2,9.6 24.5,9.6c10.3,0 19.6,-9.6 24.5,-9.6c4.9,0 14.2,9.6 24.5,9.6c10.3,0 19.6,-9.6 24.5,-9.6c4.9,0 14.2,9.6 24.5,9.6c10.3,0 19.6,-9.6 24.5,-9.6c4.9,0 14.2,9.6 24.5,9.6c10.3,0 19.6,-9.6 24.5,-9.6c4.9,0 14.2,9.6 24.5,9.6c10.3,0 19.6,-9.6 24.5,-9.6c4.9,0 14.2,9.6 24.5,9.6c10.3,0 19.6,-9.6 24.5,-9.6c4.9,0 14.2,9.6 24.5,9.6c10.3,0 19.6,-9.6 24.5,-9.6c4.9,0 14.2,9.6 24.5,9.6V1041.7H560.1Z" clip-path="url(#cr3)"/>
<clipPath id="cr4"><rect x="591.1" y="900" width="1100" height="300"/></clipPath>
<path d="M529,1023.1c10.4,0 19.9,-9.7 24.8,-9.7c5,0 14.4,9.7 24.8,9.7c10.4,0 19.9,-9.7 24.8,-9.7c5,0 14.4,9.7 24.8,9.7c10.4,0 19.9,-9.7 24.8,-9.7c5,0 14.4,9.7 24.8,9.7c10.4,0 19.9,-9.7 24.8,-9.7c5,0 14.4,9.7 24.8,9.7c10.4,0 19.9,-9.7 24.8,-9.7c5,0 14.4,9.7 24.8,9.7c10.4,0 19.9,-9.7 24.8,-9.7c5,0 14.4,9.7 24.8,9.7c10.4,0 19.9,-9.7 24.8,-9.7c5,0 14.4,9.7 24.8,9.7c10.4,0 19.9,-9.7 24.8,-9.7c5,0 14.4,9.7 24.8,9.7c10.4,0 19.9,-9.7 24.8,-9.7c5,0 14.4,9.7 24.8,9.7c10.4,0 19.9,-9.7 24.8,-9.7c5,0 14.4,9.7 24.8,9.7c10.4,0 19.9,-9.7 24.8,-9.7c5,0 14.4,9.7 24.8,9.7c10.4,0 19.9,-9.7 24.8,-9.7c5,0 14.4,9.7 24.8,9.7c10.4,0 19.9,-9.7 24.8,-9.7c5,0 14.4,9.7 24.8,9.7c10.4,0 19.9,-9.7 24.8,-9.7c5,0 14.4,9.7 24.8,9.7c10.4,0 19.9,-9.7 24.8,-9.7c5,0 14.4,9.7 24.8,9.7c10.4,0 19.9,-9.7 24.8,-9.7c5,0 14.4,9.7 24.8,9.7c10.4,0 19.9,-9.7 24.8,-9.7c5,0 14.4,9.7 24.8,9.7c10.4,0 19.9,-9.7 24.8,-9.7c5,0 14.4,9.7 24.8,9.7c10.4,0 19.9,-9.7 24.8,-9.7c5,0 14.4,9.7 24.8,9.7c10.4,0 19.9,-9.7 24.8,-9.7c5,0 14.4,9.7 24.8,9.7V1048.5H529Z" clip-path="url(#cr4)"/>
<clipPath id="cr5"><rect x="586.3" y="900" width="1100" height="300"/></clipPath>
<path d="M547.3,1029.8c10.6,0 20.1,-9.9 25.1,-9.9c5,0 14.6,9.9 25.1,9.9c10.6,0 20.1,-9.9 25.1,-9.9c5,0 14.6,9.9 25.1,9.9c10.6,0 20.1,-9.9 25.1,-9.9c5,0 14.6,9.9 25.1,9.9c10.6,0 20.1,-9.9 25.1,-9.9c5,0 14.6,9.9 25.1,9.9c10.6,0 20.1,-9.9 25.1,-9.9c5,0 14.6,9.9 25.1,9.9c10.6,0 20.1,-9.9 25.1,-9.9c5,0 14.6,9.9 25.1,9.9c10.6,0 20.1,-9.9 25.1,-9.9c5,0 14.6,9.9 25.1,9.9c10.6,0 20.1,-9.9 25.1,-9.9c5,0 14.6,9.9 25.1,9.9c10.6,0 20.1,-9.9 25.1,-9.9c5,0 14.6,9.9 25.1,9.9c10.6,0 20.1,-9.9 25.1,-9.9c5,0 14.6,9.9 25.1,9.9c10.6,0 20.1,-9.9 25.1,-9.9c5,0 14.6,9.9 25.1,9.9c10.6,0 20.1,-9.9 25.1,-9.9c5,0 14.6,9.9 25.1,9.9c10.6,0 20.1,-9.9 25.1,-9.9c5,0 14.6,9.9 25.1,9.9c10.6,0 20.1,-9.9 25.1,-9.9c5,0 14.6,9.9 25.1,9.9c10.6,0 20.1,-9.9 25.1,-9.9c5,0 14.6,9.9 25.1,9.9c10.6,0 20.1,-9.9 25.1,-9.9c5,0 14.6,9.9 25.1,9.9c10.6,0 20.1,-9.9 25.1,-9.9c5,0 14.6,9.9 25.1,9.9c10.6,0 20.1,-9.9 25.1,-9.9c5,0 14.6,9.9 25.1,9.9c10.6,0 20.1,-9.9 25.1,-9.9c5,0 14.6,9.9 25.1,9.9c10.6,0 20.1,-9.9 25.1,-9.9c5,0 14.6,9.9 25.1,9.9V1055.5H547.3Z" clip-path="url(#cr5)"/>
<clipPath id="cr6"><rect x="581.3" y="900" width="1100" height="300"/></clipPath>
<path d="M515.2,1036.6c10.7,0 20.3,-10 25.4,-10c5.1,0 14.7,10 25.4,10c10.7,0 20.3,-10 25.4,-10c5.1,0 14.7,10 25.4,10c10.7,0 20.3,-10 25.4,-10c5.1,0 14.7,10 25.4,10c10.7,0 20.3,-10 25.4,-10c5.1,0 14.7,10 25.4,10c10.7,0 20.3,-10 25.4,-10c5.1,0 14.7,10 25.4,10c10.7,0 20.3,-10 25.4,-10c5.1,0 14.7,10 25.4,10c10.7,0 20.3,-10 25.4,-10c5.1,0 14.7,10 25.4,10c10.7,0 20.3,-10 25.4,-10c5.1,0 14.7,10 25.4,10c10.7,0 20.3,-10 25.4,-10c5.1,0 14.7,10 25.4,10c10.7,0 20.3,-10 25.4,-10c5.1,0 14.7,10 25.4,10c10.7,0 20.3,-10 25.4,-10c5.1,0 14.7,10 25.4,10c10.7,0 20.3,-10 25.4,-10c5.1,0 14.7,10 25.4,10c10.7,0 20.3,-10 25.4,-10c5.1,0 14.7,10 25.4,10c10.7,0 20.3,-10 25.4,-10c5.1,0 14.7,10 25.4,10c10.7,0 20.3,-10 25.4,-10c5.1,0 14.7,10 25.4,10c10.7,0 20.3,-10 25.4,-10c5.1,0 14.7,10 25.4,10c10.7,0 20.3,-10 25.4,-10c5.1,0 14.7,10 25.4,10c10.7,0 20.3,-10 25.4,-10c5.1,0 14.7,10 25.4,10c10.7,0 20.3,-10 25.4,-10c5.1,0 14.7,10 25.4,10c10.7,0 20.3,-10 25.4,-10c5.1,0 14.7,10 25.4,10V1062.6H515.2Z" clip-path="url(#cr6)"/>
<clipPath id="cr7"><rect x="576.2" y="900" width="1100" height="300"/></clipPath>
<path d="M533.9,1043.6c10.8,0 20.6,-10.1 25.7,-10.1c5.1,0 14.9,10.1 25.7,10.1c10.8,0 20.6,-10.1 25.7,-10.1c5.1,0 14.9,10.1 25.7,10.1c10.8,0 20.6,-10.1 25.7,-10.1c5.1,0 14.9,10.1 25.7,10.1c10.8,0 20.6,-10.1 25.7,-10.1c5.1,0 14.9,10.1 25.7,10.1c10.8,0 20.6,-10.1 25.7,-10.1c5.1,0 14.9,10.1 25.7,10.1c10.8,0 20.6,-10.1 25.7,-10.1c5.1,0 14.9,10.1 25.7,10.1c10.8,0 20.6,-10.1 25.7,-10.1c5.1,0 14.9,10.1 25.7,10.1c10.8,0 20.6,-10.1 25.7,-10.1c5.1,0 14.9,10.1 25.7,10.1c10.8,0 20.6,-10.1 25.7,-10.1c5.1,0 14.9,10.1 25.7,10.1c10.8,0 20.6,-10.1 25.7,-10.1c5.1,0 14.9,10.1 25.7,10.1c10.8,0 20.6,-10.1 25.7,-10.1c5.1,0 14.9,10.1 25.7,10.1c10.8,0 20.6,-10.1 25.7,-10.1c5.1,0 14.9,10.1 25.7,10.1c10.8,0 20.6,-10.1 25.7,-10.1c5.1,0 14.9,10.1 25.7,10.1c10.8,0 20.6,-10.1 25.7,-10.1c5.1,0 14.9,10.1 25.7,10.1c10.8,0 20.6,-10.1 25.7,-10.1c5.1,0 14.9,10.1 25.7,10.1c10.8,0 20.6,-10.1 25.7,-10.1c5.1,0 14.9,10.1 25.7,10.1c10.8,0 20.6,-10.1 25.7,-10.1c5.1,0 14.9,10.1 25.7,10.1c10.8,0 20.6,-10.1 25.7,-10.1c5.1,0 14.9,10.1 25.7,10.1c10.8,0 20.6,-10.1 25.7,-10.1c5.1,0 14.9,10.1 25.7,10.1V1070H533.9Z" clip-path="url(#cr7)"/>
<clipPath id="cr8"><rect x="571" y="900" width="1100" height="300"/></clipPath>
<path d="M500.8,1050.8c10.9,0 20.8,-10.2 26.1,-10.2c5.2,0 15.1,10.2 26.1,10.2c10.9,0 20.8,-10.2 26.1,-10.2c5.2,0 15.1,10.2 26.1,10.2c10.9,0 20.8,-10.2 26.1,-10.2c5.2,0 15.1,10.2 26.1,10.2c10.9,0 20.8,-10.2 26.1,-10.2c5.2,0 15.1,10.2 26.1,10.2c10.9,0 20.8,-10.2 26.1,-10.2c5.2,0 15.1,10.2 26.1,10.2c10.9,0 20.8,-10.2 26.1,-10.2c5.2,0 15.1,10.2 26.1,10.2c10.9,0 20.8,-10.2 26.1,-10.2c5.2,0 15.1,10.2 26.1,10.2c10.9,0 20.8,-10.2 26.1,-10.2c5.2,0 15.1,10.2 26.1,10.2c10.9,0 20.8,-10.2 26.1,-10.2c5.2,0 15.1,10.2 26.1,10.2c10.9,0 20.8,-10.2 26.1,-10.2c5.2,0 15.1,10.2 26.1,10.2c10.9,0 20.8,-10.2 26.1,-10.2c5.2,0 15.1,10.2 26.1,10.2c10.9,0 20.8,-10.2 26.1,-10.2c5.2,0 15.1,10.2 26.1,10.2c10.9,0 20.8,-10.2 26.1,-10.2c5.2,0 15.1,10.2 26.1,10.2c10.9,0 20.8,-10.2 26.1,-10.2c5.2,0 15.1,10.2 26.1,10.2c10.9,0 20.8,-10.2 26.1,-10.2c5.2,0 15.1,10.2 26.1,10.2c10.9,0 20.8,-10.2 26.1,-10.2c5.2,0 15.1,10.2 26.1,10.2c10.9,0 20.8,-10.2 26.1,-10.2c5.2,0 15.1,10.2 26.1,10.2c10.9,0 20.8,-10.2 26.1,-10.2c5.2,0 15.1,10.2 26.1,10.2c10.9,0 20.8,-10.2 26.1,-10.2c5.2,0 15.1,10.2 26.1,10.2c10.9,0 20.8,-10.2 26.1,-10.2c5.2,0 15.1,10.2 26.1,10.2V1077.5H500.8Z" clip-path="url(#cr8)"/>
<clipPath id="cr9"><rect x="565.7" y="900" width="1100" height="300"/></clipPath>
<path d="M519.7,1058.2c11.1,0 21.1,-10.4 26.4,-10.4c5.3,0 15.3,10.4 26.4,10.4c11.1,0 21.1,-10.4 26.4,-10.4c5.3,0 15.3,10.4 26.4,10.4c11.1,0 21.1,-10.4 26.4,-10.4c5.3,0 15.3,10.4 26.4,10.4c11.1,0 21.1,-10.4 26.4,-10.4c5.3,0 15.3,10.4 26.4,10.4c11.1,0 21.1,-10.4 26.4,-10.4c5.3,0 15.3,10.4 26.4,10.4c11.1,0 21.1,-10.4 26.4,-10.4c5.3,0 15.3,10.4 26.4,10.4c11.1,0 21.1,-10.4 26.4,-10.4c5.3,0 15.3,10.4 26.4,10.4c11.1,0 21.1,-10.4 26.4,-10.4c5.3,0 15.3,10.4 26.4,10.4c11.1,0 21.1,-10.4 26.4,-10.4c5.3,0 15.3,10.4 26.4,10.4c11.1,0 21.1,-10.4 26.4,-10.4c5.3,0 15.3,10.4 26.4,10.4c11.1,0 21.1,-10.4 26.4,-10.4c5.3,0 15.3,10.4 26.4,10.4c11.1,0 21.1,-10.4 26.4,-10.4c5.3,0 15.3,10.4 26.4,10.4c11.1,0 21.1,-10.4 26.4,-10.4c5.3,0 15.3,10.4 26.4,10.4c11.1,0 21.1,-10.4 26.4,-10.4c5.3,0 15.3,10.4 26.4,10.4c11.1,0 21.1,-10.4 26.4,-10.4c5.3,0 15.3,10.4 26.4,10.4c11.1,0 21.1,-10.4 26.4,-10.4c5.3,0 15.3,10.4 26.4,10.4c11.1,0 21.1,-10.4 26.4,-10.4c5.3,0 15.3,10.4 26.4,10.4c11.1,0 21.1,-10.4 26.4,-10.4c5.3,0 15.3,10.4 26.4,10.4c11.1,0 21.1,-10.4 26.4,-10.4c5.3,0 15.3,10.4 26.4,10.4V1085.2H519.7Z" clip-path="url(#cr9)"/>
<clipPath id="cr10"><rect x="560.3" y="900" width="1100" height="300"/></clipPath>
<path d="M485.7,1065.7c11.2,0 21.4,-10.5 26.7,-10.5c5.3,0 15.5,10.5 26.7,10.5c11.2,0 21.4,-10.5 26.7,-10.5c5.3,0 15.5,10.5 26.7,10.5c11.2,0 21.4,-10.5 26.7,-10.5c5.3,0 15.5,10.5 26.7,10.5c11.2,0 21.4,-10.5 26.7,-10.5c5.3,0 15.5,10.5 26.7,10.5c11.2,0 21.4,-10.5 26.7,-10.5c5.3,0 15.5,10.5 26.7,10.5c11.2,0 21.4,-10.5 26.7,-10.5c5.3,0 15.5,10.5 26.7,10.5c11.2,0 21.4,-10.5 26.7,-10.5c5.3,0 15.5,10.5 26.7,10.5c11.2,0 21.4,-10.5 26.7,-10.5c5.3,0 15.5,10.5 26.7,10.5c11.2,0 21.4,-10.5 26.7,-10.5c5.3,0 15.5,10.5 26.7,10.5c11.2,0 21.4,-10.5 26.7,-10.5c5.3,0 15.5,10.5 26.7,10.5c11.2,0 21.4,-10.5 26.7,-10.5c5.3,0 15.5,10.5 26.7,10.5c11.2,0 21.4,-10.5 26.7,-10.5c5.3,0 15.5,10.5 26.7,10.5c11.2,0 21.4,-10.5 26.7,-10.5c5.3,0 15.5,10.5 26.7,10.5c11.2,0 21.4,-10.5 26.7,-10.5c5.3,0 15.5,10.5 26.7,10.5c11.2,0 21.4,-10.5 26.7,-10.5c5.3,0 15.5,10.5 26.7,10.5c11.2,0 21.4,-10.5 26.7,-10.5c5.3,0 15.5,10.5 26.7,10.5c11.2,0 21.4,-10.5 26.7,-10.5c5.3,0 15.5,10.5 26.7,10.5c11.2,0 21.4,-10.5 26.7,-10.5c5.3,0 15.5,10.5 26.7,10.5c11.2,0 21.4,-10.5 26.7,-10.5c5.3,0 15.5,10.5 26.7,10.5c11.2,0 21.4,-10.5 26.7,-10.5c5.3,0 15.5,10.5 26.7,10.5V1093.1H485.7Z" clip-path="url(#cr10)"/>
<clipPath id="cr11"><rect x="554.7" y="900" width="1100" height="300"/></clipPath>
<path d="M504.9,1073.5c11.4,0 21.6,-10.6 27.1,-10.6c5.4,0 15.7,10.6 27.1,10.6c11.4,0 21.6,-10.6 27.1,-10.6c5.4,0 15.7,10.6 27.1,10.6c11.4,0 21.6,-10.6 27.1,-10.6c5.4,0 15.7,10.6 27.1,10.6c11.4,0 21.6,-10.6 27.1,-10.6c5.4,0 15.7,10.6 27.1,10.6c11.4,0 21.6,-10.6 27.1,-10.6c5.4,0 15.7,10.6 27.1,10.6c11.4,0 21.6,-10.6 27.1,-10.6c5.4,0 15.7,10.6 27.1,10.6c11.4,0 21.6,-10.6 27.1,-10.6c5.4,0 15.7,10.6 27.1,10.6c11.4,0 21.6,-10.6 27.1,-10.6c5.4,0 15.7,10.6 27.1,10.6c11.4,0 21.6,-10.6 27.1,-10.6c5.4,0 15.7,10.6 27.1,10.6c11.4,0 21.6,-10.6 27.1,-10.6c5.4,0 15.7,10.6 27.1,10.6c11.4,0 21.6,-10.6 27.1,-10.6c5.4,0 15.7,10.6 27.1,10.6c11.4,0 21.6,-10.6 27.1,-10.6c5.4,0 15.7,10.6 27.1,10.6c11.4,0 21.6,-10.6 27.1,-10.6c5.4,0 15.7,10.6 27.1,10.6c11.4,0 21.6,-10.6 27.1,-10.6c5.4,0 15.7,10.6 27.1,10.6c11.4,0 21.6,-10.6 27.1,-10.6c5.4,0 15.7,10.6 27.1,10.6c11.4,0 21.6,-10.6 27.1,-10.6c5.4,0 15.7,10.6 27.1,10.6c11.4,0 21.6,-10.6 27.1,-10.6c5.4,0 15.7,10.6 27.1,10.6c11.4,0 21.6,-10.6 27.1,-10.6c5.4,0 15.7,10.6 27.1,10.6c11.4,0 21.6,-10.6 27.1,-10.6c5.4,0 15.7,10.6 27.1,10.6V1101.2H504.9Z" clip-path="url(#cr11)"/>
<clipPath id="cr12"><rect x="548.9" y="900" width="1100" height="300"/></clipPath>
<path d="M469.8,1081.4c11.5,0 21.9,-10.8 27.4,-10.8c5.5,0 15.9,10.8 27.4,10.8c11.5,0 21.9,-10.8 27.4,-10.8c5.5,0 15.9,10.8 27.4,10.8c11.5,0 21.9,-10.8 27.4,-10.8c5.5,0 15.9,10.8 27.4,10.8c11.5,0 21.9,-10.8 27.4,-10.8c5.5,0 15.9,10.8 27.4,10.8c11.5,0 21.9,-10.8 27.4,-10.8c5.5,0 15.9,10.8 27.4,10.8c11.5,0 21.9,-10.8 27.4,-10.8c5.5,0 15.9,10.8 27.4,10.8c11.5,0 21.9,-10.8 27.4,-10.8c5.5,0 15.9,10.8 27.4,10.8c11.5,0 21.9,-10.8 27.4,-10.8c5.5,0 15.9,10.8 27.4,10.8c11.5,0 21.9,-10.8 27.4,-10.8c5.5,0 15.9,10.8 27.4,10.8c11.5,0 21.9,-10.8 27.4,-10.8c5.5,0 15.9,10.8 27.4,10.8c11.5,0 21.9,-10.8 27.4,-10.8c5.5,0 15.9,10.8 27.4,10.8c11.5,0 21.9,-10.8 27.4,-10.8c5.5,0 15.9,10.8 27.4,10.8c11.5,0 21.9,-10.8 27.4,-10.8c5.5,0 15.9,10.8 27.4,10.8c11.5,0 21.9,-10.8 27.4,-10.8c5.5,0 15.9,10.8 27.4,10.8c11.5,0 21.9,-10.8 27.4,-10.8c5.5,0 15.9,10.8 27.4,10.8c11.5,0 21.9,-10.8 27.4,-10.8c5.5,0 15.9,10.8 27.4,10.8c11.5,0 21.9,-10.8 27.4,-10.8c5.5,0 15.9,10.8 27.4,10.8c11.5,0 21.9,-10.8 27.4,-10.8c5.5,0 15.9,10.8 27.4,10.8c11.5,0 21.9,-10.8 27.4,-10.8c5.5,0 15.9,10.8 27.4,10.8V1109.5H469.8Z" clip-path="url(#cr12)"/>
<clipPath id="cr13"><rect x="543" y="900" width="1100" height="300"/></clipPath>
<path d="M489.3,1089.6c11.7,0 22.2,-10.9 27.8,-10.9c5.6,0 16.1,10.9 27.8,10.9c11.7,0 22.2,-10.9 27.8,-10.9c5.6,0 16.1,10.9 27.8,10.9c11.7,0 22.2,-10.9 27.8,-10.9c5.6,0 16.1,10.9 27.8,10.9c11.7,0 22.2,-10.9 27.8,-10.9c5.6,0 16.1,10.9 27.8,10.9c11.7,0 22.2,-10.9 27.8,-10.9c5.6,0 16.1,10.9 27.8,10.9c11.7,0 22.2,-10.9 27.8,-10.9c5.6,0 16.1,10.9 27.8,10.9c11.7,0 22.2,-10.9 27.8,-10.9c5.6,0 16.1,10.9 27.8,10.9c11.7,0 22.2,-10.9 27.8,-10.9c5.6,0 16.1,10.9 27.8,10.9c11.7,0 22.2,-10.9 27.8,-10.9c5.6,0 16.1,10.9 27.8,10.9c11.7,0 22.2,-10.9 27.8,-10.9c5.6,0 16.1,10.9 27.8,10.9c11.7,0 22.2,-10.9 27.8,-10.9c5.6,0 16.1,10.9 27.8,10.9c11.7,0 22.2,-10.9 27.8,-10.9c5.6,0 16.1,10.9 27.8,10.9c11.7,0 22.2,-10.9 27.8,-10.9c5.6,0 16.1,10.9 27.8,10.9c11.7,0 22.2,-10.9 27.8,-10.9c5.6,0 16.1,10.9 27.8,10.9c11.7,0 22.2,-10.9 27.8,-10.9c5.6,0 16.1,10.9 27.8,10.9c11.7,0 22.2,-10.9 27.8,-10.9c5.6,0 16.1,10.9 27.8,10.9c11.7,0 22.2,-10.9 27.8,-10.9c5.6,0 16.1,10.9 27.8,10.9c11.7,0 22.2,-10.9 27.8,-10.9c5.6,0 16.1,10.9 27.8,10.9c11.7,0 22.2,-10.9 27.8,-10.9c5.6,0 16.1,10.9 27.8,10.9V1118H489.3Z" clip-path="url(#cr13)"/>
<clipPath id="cr14"><rect x="537" y="900" width="1100" height="300"/></clipPath>
<path d="M453,1098c11.8,0 22.5,-11 28.1,-11c5.6,0 16.3,11 28.1,11c11.8,0 22.5,-11 28.1,-11c5.6,0 16.3,11 28.1,11c11.8,0 22.5,-11 28.1,-11c5.6,0 16.3,11 28.1,11c11.8,0 22.5,-11 28.1,-11c5.6,0 16.3,11 28.1,11c11.8,0 22.5,-11 28.1,-11c5.6,0 16.3,11 28.1,11c11.8,0 22.5,-11 28.1,-11c5.6,0 16.3,11 28.1,11c11.8,0 22.5,-11 28.1,-11c5.6,0 16.3,11 28.1,11c11.8,0 22.5,-11 28.1,-11c5.6,0 16.3,11 28.1,11c11.8,0 22.5,-11 28.1,-11c5.6,0 16.3,11 28.1,11c11.8,0 22.5,-11 28.1,-11c5.6,0 16.3,11 28.1,11c11.8,0 22.5,-11 28.1,-11c5.6,0 16.3,11 28.1,11c11.8,0 22.5,-11 28.1,-11c5.6,0 16.3,11 28.1,11c11.8,0 22.5,-11 28.1,-11c5.6,0 16.3,11 28.1,11c11.8,0 22.5,-11 28.1,-11c5.6,0 16.3,11 28.1,11c11.8,0 22.5,-11 28.1,-11c5.6,0 16.3,11 28.1,11c11.8,0 22.5,-11 28.1,-11c5.6,0 16.3,11 28.1,11c11.8,0 22.5,-11 28.1,-11c5.6,0 16.3,11 28.1,11c11.8,0 22.5,-11 28.1,-11c5.6,0 16.3,11 28.1,11c11.8,0 22.5,-11 28.1,-11c5.6,0 16.3,11 28.1,11V1126.8H453Z" clip-path="url(#cr14)"/>
<clipPath id="cr15"><rect x="530.8" y="900" width="1100" height="300"/></clipPath>
<path d="M472.8,1106.6c12,0 22.8,-11.2 28.5,-11.2c5.7,0 16.5,11.2 28.5,11.2c12,0 22.8,-11.2 28.5,-11.2c5.7,0 16.5,11.2 28.5,11.2c12,0 22.8,-11.2 28.5,-11.2c5.7,0 16.5,11.2 28.5,11.2c12,0 22.8,-11.2 28.5,-11.2c5.7,0 16.5,11.2 28.5,11.2c12,0 22.8,-11.2 28.5,-11.2c5.7,0 16.5,11.2 28.5,11.2c12,0 22.8,-11.2 28.5,-11.2c5.7,0 16.5,11.2 28.5,11.2c12,0 22.8,-11.2 28.5,-11.2c5.7,0 16.5,11.2 28.5,11.2c12,0 22.8,-11.2 28.5,-11.2c5.7,0 16.5,11.2 28.5,11.2c12,0 22.8,-11.2 28.5,-11.2c5.7,0 16.5,11.2 28.5,11.2c12,0 22.8,-11.2 28.5,-11.2c5.7,0 16.5,11.2 28.5,11.2c12,0 22.8,-11.2 28.5,-11.2c5.7,0 16.5,11.2 28.5,11.2c12,0 22.8,-11.2 28.5,-11.2c5.7,0 16.5,11.2 28.5,11.2c12,0 22.8,-11.2 28.5,-11.2c5.7,0 16.5,11.2 28.5,11.2c12,0 22.8,-11.2 28.5,-11.2c5.7,0 16.5,11.2 28.5,11.2c12,0 22.8,-11.2 28.5,-11.2c5.7,0 16.5,11.2 28.5,11.2c12,0 22.8,-11.2 28.5,-11.2c5.7,0 16.5,11.2 28.5,11.2c12,0 22.8,-11.2 28.5,-11.2c5.7,0 16.5,11.2 28.5,11.2c12,0 22.8,-11.2 28.5,-11.2c5.7,0 16.5,11.2 28.5,11.2c12,0 22.8,-11.2 28.5,-11.2c5.7,0 16.5,11.2 28.5,11.2V1135.8H472.8Z" clip-path="url(#cr15)"/>
<clipPath id="cr16"><rect x="524.4" y="900" width="1100" height="300"/></clipPath>
<path d="M493.1,1115.4c12.1,0 23.1,-11.3 28.9,-11.3c5.8,0 16.8,11.3 28.9,11.3c12.1,0 23.1,-11.3 28.9,-11.3c5.8,0 16.8,11.3 28.9,11.3c12.1,0 23.1,-11.3 28.9,-11.3c5.8,0 16.8,11.3 28.9,11.3c12.1,0 23.1,-11.3 28.9,-11.3c5.8,0 16.8,11.3 28.9,11.3c12.1,0 23.1,-11.3 28.9,-11.3c5.8,0 16.8,11.3 28.9,11.3c12.1,0 23.1,-11.3 28.9,-11.3c5.8,0 16.8,11.3 28.9,11.3c12.1,0 23.1,-11.3 28.9,-11.3c5.8,0 16.8,11.3 28.9,11.3c12.1,0 23.1,-11.3 28.9,-11.3c5.8,0 16.8,11.3 28.9,11.3c12.1,0 23.1,-11.3 28.9,-11.3c5.8,0 16.8,11.3 28.9,11.3c12.1,0 23.1,-11.3 28.9,-11.3c5.8,0 16.8,11.3 28.9,11.3c12.1,0 23.1,-11.3 28.9,-11.3c5.8,0 16.8,11.3 28.9,11.3c12.1,0 23.1,-11.3 28.9,-11.3c5.8,0 16.8,11.3 28.9,11.3c12.1,0 23.1,-11.3 28.9,-11.3c5.8,0 16.8,11.3 28.9,11.3c12.1,0 23.1,-11.3 28.9,-11.3c5.8,0 16.8,11.3 28.9,11.3c12.1,0 23.1,-11.3 28.9,-11.3c5.8,0 16.8,11.3 28.9,11.3c12.1,0 23.1,-11.3 28.9,-11.3c5.8,0 16.8,11.3 28.9,11.3c12.1,0 23.1,-11.3 28.9,-11.3c5.8,0 16.8,11.3 28.9,11.3c12.1,0 23.1,-11.3 28.9,-11.3c5.8,0 16.8,11.3 28.9,11.3V1145H493.1Z" clip-path="url(#cr16)"/>
<clipPath id="cr17"><rect x="517.8" y="900" width="1100" height="300"/></clipPath>
<path d="M455.4,1124.5c12.3,0 23.4,-11.5 29.3,-11.5c5.9,0 17,11.5 29.3,11.5c12.3,0 23.4,-11.5 29.3,-11.5c5.9,0 17,11.5 29.3,11.5c12.3,0 23.4,-11.5 29.3,-11.5c5.9,0 17,11.5 29.3,11.5c12.3,0 23.4,-11.5 29.3,-11.5c5.9,0 17,11.5 29.3,11.5c12.3,0 23.4,-11.5 29.3,-11.5c5.9,0 17,11.5 29.3,11.5c12.3,0 23.4,-11.5 29.3,-11.5c5.9,0 17,11.5 29.3,11.5c12.3,0 23.4,-11.5 29.3,-11.5c5.9,0 17,11.5 29.3,11.5c12.3,0 23.4,-11.5 29.3,-11.5c5.9,0 17,11.5 29.3,11.5c12.3,0 23.4,-11.5 29.3,-11.5c5.9,0 17,11.5 29.3,11.5c12.3,0 23.4,-11.5 29.3,-11.5c5.9,0 17,11.5 29.3,11.5c12.3,0 23.4,-11.5 29.3,-11.5c5.9,0 17,11.5 29.3,11.5c12.3,0 23.4,-11.5 29.3,-11.5c5.9,0 17,11.5 29.3,11.5c12.3,0 23.4,-11.5 29.3,-11.5c5.9,0 17,11.5 29.3,11.5c12.3,0 23.4,-11.5 29.3,-11.5c5.9,0 17,11.5 29.3,11.5c12.3,0 23.4,-11.5 29.3,-11.5c5.9,0 17,11.5 29.3,11.5c12.3,0 23.4,-11.5 29.3,-11.5c5.9,0 17,11.5 29.3,11.5c12.3,0 23.4,-11.5 29.3,-11.5c5.9,0 17,11.5 29.3,11.5c12.3,0 23.4,-11.5 29.3,-11.5c5.9,0 17,11.5 29.3,11.5V1154.5H455.4Z" clip-path="url(#cr17)"/>
</g>
<path d="M510,1169 L510,1142 Q511,1128 516,1125 Q520,1124 524.7,1151 C538.0,1151 544.5,1120 554.0,1120 C563.5,1120 570.0,1151 583.3,1151 C596.6,1151 603.1,1120 612.6,1120 C622.1,1120 628.6,1151 641.9,1151 C655.2,1151 661.7,1120 671.2,1120 C680.7,1120 687.2,1151 700.5,1151 C713.8,1151 720.3,1120 729.8,1120 C739.3,1120 745.8,1151 759.1,1151 C772.4,1151 778.9,1120 788.4,1120 C797.9,1120 804.4,1151 817.7,1151 C831.0,1151 837.5,1120 847.0,1120 C856.5,1120 863.0,1151 876.3,1151 C889.6,1151 896.1,1120 905.6,1120 C915.1,1120 921.6,1151 934.9,1151 C948.2,1151 954.7,1120 964.2,1120 C973.7,1120 980.2,1151 993.5,1151 C1006.8,1151 1013.3,1120 1022.8,1120 C1032.3,1120 1038.8,1151 1052.1,1151 C1065.4,1151 1071.9,1120 1081.4,1120 C1090.9,1120 1097.4,1151 1110.7,1151 C1124.0,1151 1130.5,1120 1140.0,1120 C1149.5,1120 1156.0,1151 1169.3,1151 C1182.6,1151 1189.1,1120 1198.6,1120 C1208.1,1120 1214.6,1151 1227.9,1151 C1241.2,1151 1247.7,1120 1257.2,1120 C1266.7,1120 1273.2,1151 1286.5,1151 C1299.8,1151 1306.3,1120 1315.8,1120 C1325.3,1120 1331.8,1151 1345.1,1151 C1358.4,1151 1364.9,1120 1374.4,1120 C1383.9,1120 1390.4,1151 1403.7,1151 C1417.0,1151 1423.5,1120 1433.0,1120 C1442.5,1120 1449.0,1151 1462.3,1151 C1475.6,1151 1482.1,1120 1491.6,1120 C1501.1,1120 1507.6,1151 1520.9,1151 C1534.2,1151 1540.7,1120 1550.2,1120 C1559.7,1120 1566.2,1151 1579.5,1151 L1600,1169 Z" fill="url(#gFoamF)"/>
<path d="M510,1169 L510,1142 Q511,1128 516,1125 Q520,1124 524.7,1151 C538.0,1151 544.5,1120 554.0,1120 C563.5,1120 570.0,1151 583.3,1151 C596.6,1151 603.1,1120 612.6,1120 C622.1,1120 628.6,1151 641.9,1151 C655.2,1151 661.7,1120 671.2,1120 C680.7,1120 687.2,1151 700.5,1151 C713.8,1151 720.3,1120 729.8,1120 C739.3,1120 745.8,1151 759.1,1151 C772.4,1151 778.9,1120 788.4,1120 C797.9,1120 804.4,1151 817.7,1151 C831.0,1151 837.5,1120 847.0,1120 C856.5,1120 863.0,1151 876.3,1151 C889.6,1151 896.1,1120 905.6,1120 C915.1,1120 921.6,1151 934.9,1151 C948.2,1151 954.7,1120 964.2,1120 C973.7,1120 980.2,1151 993.5,1151 C1006.8,1151 1013.3,1120 1022.8,1120 C1032.3,1120 1038.8,1151 1052.1,1151 C1065.4,1151 1071.9,1120 1081.4,1120 C1090.9,1120 1097.4,1151 1110.7,1151 C1124.0,1151 1130.5,1120 1140.0,1120 C1149.5,1120 1156.0,1151 1169.3,1151 C1182.6,1151 1189.1,1120 1198.6,1120 C1208.1,1120 1214.6,1151 1227.9,1151 C1241.2,1151 1247.7,1120 1257.2,1120 C1266.7,1120 1273.2,1151 1286.5,1151 C1299.8,1151 1306.3,1120 1315.8,1120 C1325.3,1120 1331.8,1151 1345.1,1151 C1358.4,1151 1364.9,1120 1374.4,1120 C1383.9,1120 1390.4,1151 1403.7,1151 C1417.0,1151 1423.5,1120 1433.0,1120 C1442.5,1120 1449.0,1151 1462.3,1151 C1475.6,1151 1482.1,1120 1491.6,1120 C1501.1,1120 1507.6,1151 1520.9,1151 C1534.2,1151 1540.7,1120 1550.2,1120 C1559.7,1120 1566.2,1151 1579.5,1151 L1600,1169 Z" fill="none" stroke="#4d4d4d" stroke-width="1.5" opacity=".85"/>
</g>
<g id="nonslip">
<defs><clipPath id="cNS"><path d="M680,1333.5 L1497,1333.5 L1497,1465.5 L512,1463.5 Q511.5,1459 517,1455.5 Z"/></clipPath><clipPath id="cNSF"><path d="M520,1462.6 L1497,1464 L1497,1488.8 L514.5,1488.8 Q515.5,1476 520,1462.6 Z"/></clipPath><g id="dt"><ellipse cx="0" cy="0.9" rx="3.2" ry="2" fill="#0a0b0c"/><circle cx="-1.2" cy="-0.2" r="1.25" fill="#d4d6d8"/><circle cx="1.3" cy="-0.1" r="1.05" fill="#a9abad"/></g></defs>
<path d="M680,1333.5 L1497,1333.5 L1497,1465.5 L512,1463.5 Q511.5,1459 517,1455.5 Z" fill="url(#gNS)" filter="url(#grain)"/>
<path d="M520,1462.6 L1497,1464 L1497,1488.8 L514.5,1488.8 Q515.5,1476 520,1462.6 Z" fill="#0a0b0b"/>
<path d="M511.5,1463 L521.5,1464.5 Q516,1478 515,1488.5 L513,1488.5 Q511,1476 511.5,1463 Z" fill="#8a8172"/>
<g clip-path="url(#cNS)">
<use href="#dt" x="506.8" y="1445.1"/>
<use href="#dt" x="515.0" y="1457.7"/>
<use href="#dt" x="510.0" y="1417.8"/>
<use href="#dt" x="518.2" y="1430.4"/>
<use href="#dt" x="526.4" y="1443.0"/>
<use href="#dt" x="534.6" y="1455.6"/>
<use href="#dt" x="505.0" y="1377.9"/>
<use href="#dt" x="513.2" y="1390.5"/>
<use href="#dt" x="521.4" y="1403.1"/>
<use href="#dt" x="529.6" y="1415.7"/>
<use href="#dt" x="537.8" y="1428.3"/>
<use href="#dt" x="546.0" y="1440.9"/>
<use href="#dt" x="554.2" y="1453.5"/>
<use href="#dt" x="508.2" y="1350.6"/>
<use href="#dt" x="516.4" y="1363.2"/>
<use href="#dt" x="524.6" y="1375.8"/>
<use href="#dt" x="532.8" y="1388.4"/>
<use href="#dt" x="541.0" y="1401.0"/>
<use href="#dt" x="549.2" y="1413.6"/>
<use href="#dt" x="557.4" y="1426.2"/>
<use href="#dt" x="565.6" y="1438.8"/>
<use href="#dt" x="573.8" y="1451.4"/>
<use href="#dt" x="519.6" y="1335.9"/>
<use href="#dt" x="527.8" y="1348.5"/>
<use href="#dt" x="536.0" y="1361.1"/>
<use href="#dt" x="544.2" y="1373.7"/>
<use href="#dt" x="552.4" y="1386.3"/>
<use href="#dt" x="560.6" y="1398.9"/>
<use href="#dt" x="568.8" y="1411.5"/>
<use href="#dt" x="577.0" y="1424.1"/>
<use href="#dt" x="585.2" y="1436.7"/>
<use href="#dt" x="593.4" y="1449.3"/>
<use href="#dt" x="601.6" y="1461.9"/>
<use href="#dt" x="547.4" y="1346.4"/>
<use href="#dt" x="555.6" y="1359.0"/>
<use href="#dt" x="563.8" y="1371.6"/>
<use href="#dt" x="572.0" y="1384.2"/>
<use href="#dt" x="580.2" y="1396.8"/>
<use href="#dt" x="588.4" y="1409.4"/>
<use href="#dt" x="596.6" y="1422.0"/>
<use href="#dt" x="604.8" y="1434.6"/>
<use href="#dt" x="613.0" y="1447.2"/>
<use href="#dt" x="621.2" y="1459.8"/>
<use href="#dt" x="567.0" y="1344.3"/>
<use href="#dt" x="575.2" y="1356.9"/>
<use href="#dt" x="583.4" y="1369.5"/>
<use href="#dt" x="591.6" y="1382.1"/>
<use href="#dt" x="599.8" y="1394.7"/>
<use href="#dt" x="608.0" y="1407.3"/>
<use href="#dt" x="616.2" y="1419.9"/>
<use href="#dt" x="624.4" y="1432.5"/>
<use href="#dt" x="632.6" y="1445.1"/>
<use href="#dt" x="640.8" y="1457.7"/>
<use href="#dt" x="586.6" y="1342.2"/>
<use href="#dt" x="594.8" y="1354.8"/>
<use href="#dt" x="603.0" y="1367.4"/>
<use href="#dt" x="611.2" y="1380.0"/>
<use href="#dt" x="619.4" y="1392.6"/>
<use href="#dt" x="627.6" y="1405.2"/>
<use href="#dt" x="635.8" y="1417.8"/>
<use href="#dt" x="644.0" y="1430.4"/>
<use href="#dt" x="652.2" y="1443.0"/>
<use href="#dt" x="660.4" y="1455.6"/>
<use href="#dt" x="606.2" y="1340.1"/>
<use href="#dt" x="614.4" y="1352.7"/>
<use href="#dt" x="622.6" y="1365.3"/>
<use href="#dt" x="630.8" y="1377.9"/>
<use href="#dt" x="639.0" y="1390.5"/>
<use href="#dt" x="647.2" y="1403.1"/>
<use href="#dt" x="655.4" y="1415.7"/>
<use href="#dt" x="663.6" y="1428.3"/>
<use href="#dt" x="671.8" y="1440.9"/>
<use href="#dt" x="680.0" y="1453.5"/>
<use href="#dt" x="625.8" y="1338.0"/>
<use href="#dt" x="634.0" y="1350.6"/>
<use href="#dt" x="642.2" y="1363.2"/>
<use href="#dt" x="650.4" y="1375.8"/>
<use href="#dt" x="658.6" y="1388.4"/>
<use href="#dt" x="666.8" y="1401.0"/>
<use href="#dt" x="675.0" y="1413.6"/>
<use href="#dt" x="683.2" y="1426.2"/>
<use href="#dt" x="691.4" y="1438.8"/>
<use href="#dt" x="699.6" y="1451.4"/>
<use href="#dt" x="645.4" y="1335.9"/>
<use href="#dt" x="653.6" y="1348.5"/>
<use href="#dt" x="661.8" y="1361.1"/>
<use href="#dt" x="670.0" y="1373.7"/>
<use href="#dt" x="678.2" y="1386.3"/>
<use href="#dt" x="686.4" y="1398.9"/>
<use href="#dt" x="694.6" y="1411.5"/>
<use href="#dt" x="702.8" y="1424.1"/>
<use href="#dt" x="711.0" y="1436.7"/>
<use href="#dt" x="719.2" y="1449.3"/>
<use href="#dt" x="727.4" y="1461.9"/>
<use href="#dt" x="673.2" y="1346.4"/>
<use href="#dt" x="681.4" y="1359.0"/>
<use href="#dt" x="689.6" y="1371.6"/>
<use href="#dt" x="697.8" y="1384.2"/>
<use href="#dt" x="706.0" y="1396.8"/>
<use href="#dt" x="714.2" y="1409.4"/>
<use href="#dt" x="722.4" y="1422.0"/>
<use href="#dt" x="730.6" y="1434.6"/>
<use href="#dt" x="738.8" y="1447.2"/>
<use href="#dt" x="747.0" y="1459.8"/>
<use href="#dt" x="692.8" y="1344.3"/>
<use href="#dt" x="701.0" y="1356.9"/>
<use href="#dt" x="709.2" y="1369.5"/>
<use href="#dt" x="717.4" y="1382.1"/>
<use href="#dt" x="725.6" y="1394.7"/>
<use href="#dt" x="733.8" y="1407.3"/>
<use href="#dt" x="742.0" y="1419.9"/>
<use href="#dt" x="750.2" y="1432.5"/>
<use href="#dt" x="758.4" y="1445.1"/>
<use href="#dt" x="766.6" y="1457.7"/>
<use href="#dt" x="712.4" y="1342.2"/>
<use href="#dt" x="720.6" y="1354.8"/>
<use href="#dt" x="728.8" y="1367.4"/>
<use href="#dt" x="737.0" y="1380.0"/>
<use href="#dt" x="745.2" y="1392.6"/>
<use href="#dt" x="753.4" y="1405.2"/>
<use href="#dt" x="761.6" y="1417.8"/>
<use href="#dt" x="769.8" y="1430.4"/>
<use href="#dt" x="778.0" y="1443.0"/>
<use href="#dt" x="786.2" y="1455.6"/>
<use href="#dt" x="732.0" y="1340.1"/>
<use href="#dt" x="740.2" y="1352.7"/>
<use href="#dt" x="748.4" y="1365.3"/>
<use href="#dt" x="756.6" y="1377.9"/>
<use href="#dt" x="764.8" y="1390.5"/>
<use href="#dt" x="773.0" y="1403.1"/>
<use href="#dt" x="781.2" y="1415.7"/>
<use href="#dt" x="789.4" y="1428.3"/>
<use href="#dt" x="797.6" y="1440.9"/>
<use href="#dt" x="805.8" y="1453.5"/>
<use href="#dt" x="751.6" y="1338.0"/>
<use href="#dt" x="759.8" y="1350.6"/>
<use href="#dt" x="768.0" y="1363.2"/>
<use href="#dt" x="776.2" y="1375.8"/>
<use href="#dt" x="784.4" y="1388.4"/>
<use href="#dt" x="792.6" y="1401.0"/>
<use href="#dt" x="800.8" y="1413.6"/>
<use href="#dt" x="809.0" y="1426.2"/>
<use href="#dt" x="817.2" y="1438.8"/>
<use href="#dt" x="825.4" y="1451.4"/>
<use href="#dt" x="771.2" y="1335.9"/>
<use href="#dt" x="779.4" y="1348.5"/>
<use href="#dt" x="787.6" y="1361.1"/>
<use href="#dt" x="795.8" y="1373.7"/>
<use href="#dt" x="804.0" y="1386.3"/>
<use href="#dt" x="812.2" y="1398.9"/>
<use href="#dt" x="820.4" y="1411.5"/>
<use href="#dt" x="828.6" y="1424.1"/>
<use href="#dt" x="836.8" y="1436.7"/>
<use href="#dt" x="845.0" y="1449.3"/>
<use href="#dt" x="853.2" y="1461.9"/>
<use href="#dt" x="799.0" y="1346.4"/>
<use href="#dt" x="807.2" y="1359.0"/>
<use href="#dt" x="815.4" y="1371.6"/>
<use href="#dt" x="823.6" y="1384.2"/>
<use href="#dt" x="831.8" y="1396.8"/>
<use href="#dt" x="840.0" y="1409.4"/>
<use href="#dt" x="848.2" y="1422.0"/>
<use href="#dt" x="856.4" y="1434.6"/>
<use href="#dt" x="864.6" y="1447.2"/>
<use href="#dt" x="872.8" y="1459.8"/>
<use href="#dt" x="818.6" y="1344.3"/>
<use href="#dt" x="826.8" y="1356.9"/>
<use href="#dt" x="835.0" y="1369.5"/>
<use href="#dt" x="843.2" y="1382.1"/>
<use href="#dt" x="851.4" y="1394.7"/>
<use href="#dt" x="859.6" y="1407.3"/>
<use href="#dt" x="867.8" y="1419.9"/>
<use href="#dt" x="876.0" y="1432.5"/>
<use href="#dt" x="884.2" y="1445.1"/>
<use href="#dt" x="892.4" y="1457.7"/>
<use href="#dt" x="838.2" y="1342.2"/>
<use href="#dt" x="846.4" y="1354.8"/>
<use href="#dt" x="854.6" y="1367.4"/>
<use href="#dt" x="862.8" y="1380.0"/>
<use href="#dt" x="871.0" y="1392.6"/>
<use href="#dt" x="879.2" y="1405.2"/>
<use href="#dt" x="887.4" y="1417.8"/>
<use href="#dt" x="895.6" y="1430.4"/>
<use href="#dt" x="903.8" y="1443.0"/>
<use href="#dt" x="912.0" y="1455.6"/>
<use href="#dt" x="857.8" y="1340.1"/>
<use href="#dt" x="866.0" y="1352.7"/>
<use href="#dt" x="874.2" y="1365.3"/>
<use href="#dt" x="882.4" y="1377.9"/>
<use href="#dt" x="890.6" y="1390.5"/>
<use href="#dt" x="898.8" y="1403.1"/>
<use href="#dt" x="907.0" y="1415.7"/>
<use href="#dt" x="915.2" y="1428.3"/>
<use href="#dt" x="923.4" y="1440.9"/>
<use href="#dt" x="931.6" y="1453.5"/>
<use href="#dt" x="877.4" y="1338.0"/>
<use href="#dt" x="885.6" y="1350.6"/>
<use href="#dt" x="893.8" y="1363.2"/>
<use href="#dt" x="902.0" y="1375.8"/>
<use href="#dt" x="910.2" y="1388.4"/>
<use href="#dt" x="918.4" y="1401.0"/>
<use href="#dt" x="926.6" y="1413.6"/>
<use href="#dt" x="934.8" y="1426.2"/>
<use href="#dt" x="943.0" y="1438.8"/>
<use href="#dt" x="951.2" y="1451.4"/>
<use href="#dt" x="897.0" y="1335.9"/>
<use href="#dt" x="905.2" y="1348.5"/>
<use href="#dt" x="913.4" y="1361.1"/>
<use href="#dt" x="921.6" y="1373.7"/>
<use href="#dt" x="929.8" y="1386.3"/>
<use href="#dt" x="938.0" y="1398.9"/>
<use href="#dt" x="946.2" y="1411.5"/>
<use href="#dt" x="954.4" y="1424.1"/>
<use href="#dt" x="962.6" y="1436.7"/>
<use href="#dt" x="970.8" y="1449.3"/>
<use href="#dt" x="979.0" y="1461.9"/>
<use href="#dt" x="924.8" y="1346.4"/>
<use href="#dt" x="933.0" y="1359.0"/>
<use href="#dt" x="941.2" y="1371.6"/>
<use href="#dt" x="949.4" y="1384.2"/>
<use href="#dt" x="957.6" y="1396.8"/>
<use href="#dt" x="965.8" y="1409.4"/>
<use href="#dt" x="974.0" y="1422.0"/>
<use href="#dt" x="982.2" y="1434.6"/>
<use href="#dt" x="990.4" y="1447.2"/>
<use href="#dt" x="998.6" y="1459.8"/>
<use href="#dt" x="944.4" y="1344.3"/>
<use href="#dt" x="952.6" y="1356.9"/>
<use href="#dt" x="960.8" y="1369.5"/>
<use href="#dt" x="969.0" y="1382.1"/>
<use href="#dt" x="977.2" y="1394.7"/>
<use href="#dt" x="985.4" y="1407.3"/>
<use href="#dt" x="993.6" y="1419.9"/>
<use href="#dt" x="1001.8" y="1432.5"/>
<use href="#dt" x="1010.0" y="1445.1"/>
<use href="#dt" x="1018.2" y="1457.7"/>
<use href="#dt" x="964.0" y="1342.2"/>
<use href="#dt" x="972.2" y="1354.8"/>
<use href="#dt" x="980.4" y="1367.4"/>
<use href="#dt" x="988.6" y="1380.0"/>
<use href="#dt" x="996.8" y="1392.6"/>
<use href="#dt" x="1005.0" y="1405.2"/>
<use href="#dt" x="1013.2" y="1417.8"/>
<use href="#dt" x="1021.4" y="1430.4"/>
<use href="#dt" x="1029.6" y="1443.0"/>
<use href="#dt" x="1037.8" y="1455.6"/>
<use href="#dt" x="983.6" y="1340.1"/>
<use href="#dt" x="991.8" y="1352.7"/>
<use href="#dt" x="1000.0" y="1365.3"/>
<use href="#dt" x="1008.2" y="1377.9"/>
<use href="#dt" x="1016.4" y="1390.5"/>
<use href="#dt" x="1024.6" y="1403.1"/>
<use href="#dt" x="1032.8" y="1415.7"/>
<use href="#dt" x="1041.0" y="1428.3"/>
<use href="#dt" x="1049.2" y="1440.9"/>
<use href="#dt" x="1057.4" y="1453.5"/>
<use href="#dt" x="1003.2" y="1338.0"/>
<use href="#dt" x="1011.4" y="1350.6"/>
<use href="#dt" x="1019.6" y="1363.2"/>
<use href="#dt" x="1027.8" y="1375.8"/>
<use href="#dt" x="1036.0" y="1388.4"/>
<use href="#dt" x="1044.2" y="1401.0"/>
<use href="#dt" x="1052.4" y="1413.6"/>
<use href="#dt" x="1060.6" y="1426.2"/>
<use href="#dt" x="1068.8" y="1438.8"/>
<use href="#dt" x="1077.0" y="1451.4"/>
<use href="#dt" x="1022.8" y="1335.9"/>
<use href="#dt" x="1031.0" y="1348.5"/>
<use href="#dt" x="1039.2" y="1361.1"/>
<use href="#dt" x="1047.4" y="1373.7"/>
<use href="#dt" x="1055.6" y="1386.3"/>
<use href="#dt" x="1063.8" y="1398.9"/>
<use href="#dt" x="1072.0" y="1411.5"/>
<use href="#dt" x="1080.2" y="1424.1"/>
<use href="#dt" x="1088.4" y="1436.7"/>
<use href="#dt" x="1096.6" y="1449.3"/>
<use href="#dt" x="1104.8" y="1461.9"/>
<use href="#dt" x="1050.6" y="1346.4"/>
<use href="#dt" x="1058.8" y="1359.0"/>
<use href="#dt" x="1067.0" y="1371.6"/>
<use href="#dt" x="1075.2" y="1384.2"/>
<use href="#dt" x="1083.4" y="1396.8"/>
<use href="#dt" x="1091.6" y="1409.4"/>
<use href="#dt" x="1099.8" y="1422.0"/>
<use href="#dt" x="1108.0" y="1434.6"/>
<use href="#dt" x="1116.2" y="1447.2"/>
<use href="#dt" x="1124.4" y="1459.8"/>
<use href="#dt" x="1070.2" y="1344.3"/>
<use href="#dt" x="1078.4" y="1356.9"/>
<use href="#dt" x="1086.6" y="1369.5"/>
<use href="#dt" x="1094.8" y="1382.1"/>
<use href="#dt" x="1103.0" y="1394.7"/>
<use href="#dt" x="1111.2" y="1407.3"/>
<use href="#dt" x="1119.4" y="1419.9"/>
<use href="#dt" x="1127.6" y="1432.5"/>
<use href="#dt" x="1135.8" y="1445.1"/>
<use href="#dt" x="1144.0" y="1457.7"/>
<use href="#dt" x="1089.8" y="1342.2"/>
<use href="#dt" x="1098.0" y="1354.8"/>
<use href="#dt" x="1106.2" y="1367.4"/>
<use href="#dt" x="1114.4" y="1380.0"/>
<use href="#dt" x="1122.6" y="1392.6"/>
<use href="#dt" x="1130.8" y="1405.2"/>
<use href="#dt" x="1139.0" y="1417.8"/>
<use href="#dt" x="1147.2" y="1430.4"/>
<use href="#dt" x="1155.4" y="1443.0"/>
<use href="#dt" x="1163.6" y="1455.6"/>
<use href="#dt" x="1109.4" y="1340.1"/>
<use href="#dt" x="1117.6" y="1352.7"/>
<use href="#dt" x="1125.8" y="1365.3"/>
<use href="#dt" x="1134.0" y="1377.9"/>
<use href="#dt" x="1142.2" y="1390.5"/>
<use href="#dt" x="1150.4" y="1403.1"/>
<use href="#dt" x="1158.6" y="1415.7"/>
<use href="#dt" x="1166.8" y="1428.3"/>
<use href="#dt" x="1175.0" y="1440.9"/>
<use href="#dt" x="1183.2" y="1453.5"/>
<use href="#dt" x="1129.0" y="1338.0"/>
<use href="#dt" x="1137.2" y="1350.6"/>
<use href="#dt" x="1145.4" y="1363.2"/>
<use href="#dt" x="1153.6" y="1375.8"/>
<use href="#dt" x="1161.8" y="1388.4"/>
<use href="#dt" x="1170.0" y="1401.0"/>
<use href="#dt" x="1178.2" y="1413.6"/>
<use href="#dt" x="1186.4" y="1426.2"/>
<use href="#dt" x="1194.6" y="1438.8"/>
<use href="#dt" x="1202.8" y="1451.4"/>
<use href="#dt" x="1148.6" y="1335.9"/>
<use href="#dt" x="1156.8" y="1348.5"/>
<use href="#dt" x="1165.0" y="1361.1"/>
<use href="#dt" x="1173.2" y="1373.7"/>
<use href="#dt" x="1181.4" y="1386.3"/>
<use href="#dt" x="1189.6" y="1398.9"/>
<use href="#dt" x="1197.8" y="1411.5"/>
<use href="#dt" x="1206.0" y="1424.1"/>
<use href="#dt" x="1214.2" y="1436.7"/>
<use href="#dt" x="1222.4" y="1449.3"/>
<use href="#dt" x="1230.6" y="1461.9"/>
<use href="#dt" x="1176.4" y="1346.4"/>
<use href="#dt" x="1184.6" y="1359.0"/>
<use href="#dt" x="1192.8" y="1371.6"/>
<use href="#dt" x="1201.0" y="1384.2"/>
<use href="#dt" x="1209.2" y="1396.8"/>
<use href="#dt" x="1217.4" y="1409.4"/>
<use href="#dt" x="1225.6" y="1422.0"/>
<use href="#dt" x="1233.8" y="1434.6"/>
<use href="#dt" x="1242.0" y="1447.2"/>
<use href="#dt" x="1250.2" y="1459.8"/>
<use href="#dt" x="1196.0" y="1344.3"/>
<use href="#dt" x="1204.2" y="1356.9"/>
<use href="#dt" x="1212.4" y="1369.5"/>
<use href="#dt" x="1220.6" y="1382.1"/>
<use href="#dt" x="1228.8" y="1394.7"/>
<use href="#dt" x="1237.0" y="1407.3"/>
<use href="#dt" x="1245.2" y="1419.9"/>
<use href="#dt" x="1253.4" y="1432.5"/>
<use href="#dt" x="1261.6" y="1445.1"/>
<use href="#dt" x="1269.8" y="1457.7"/>
<use href="#dt" x="1215.6" y="1342.2"/>
<use href="#dt" x="1223.8" y="1354.8"/>
<use href="#dt" x="1232.0" y="1367.4"/>
<use href="#dt" x="1240.2" y="1380.0"/>
<use href="#dt" x="1248.4" y="1392.6"/>
<use href="#dt" x="1256.6" y="1405.2"/>
<use href="#dt" x="1264.8" y="1417.8"/>
<use href="#dt" x="1273.0" y="1430.4"/>
<use href="#dt" x="1281.2" y="1443.0"/>
<use href="#dt" x="1289.4" y="1455.6"/>
<use href="#dt" x="1235.2" y="1340.1"/>
<use href="#dt" x="1243.4" y="1352.7"/>
<use href="#dt" x="1251.6" y="1365.3"/>
<use href="#dt" x="1259.8" y="1377.9"/>
<use href="#dt" x="1268.0" y="1390.5"/>
<use href="#dt" x="1276.2" y="1403.1"/>
<use href="#dt" x="1284.4" y="1415.7"/>
<use href="#dt" x="1292.6" y="1428.3"/>
<use href="#dt" x="1300.8" y="1440.9"/>
<use href="#dt" x="1309.0" y="1453.5"/>
<use href="#dt" x="1254.8" y="1338.0"/>
<use href="#dt" x="1263.0" y="1350.6"/>
<use href="#dt" x="1271.2" y="1363.2"/>
<use href="#dt" x="1279.4" y="1375.8"/>
<use href="#dt" x="1287.6" y="1388.4"/>
<use href="#dt" x="1295.8" y="1401.0"/>
<use href="#dt" x="1304.0" y="1413.6"/>
<use href="#dt" x="1312.2" y="1426.2"/>
<use href="#dt" x="1320.4" y="1438.8"/>
<use href="#dt" x="1328.6" y="1451.4"/>
<use href="#dt" x="1274.4" y="1335.9"/>
<use href="#dt" x="1282.6" y="1348.5"/>
<use href="#dt" x="1290.8" y="1361.1"/>
<use href="#dt" x="1299.0" y="1373.7"/>
<use href="#dt" x="1307.2" y="1386.3"/>
<use href="#dt" x="1315.4" y="1398.9"/>
<use href="#dt" x="1323.6" y="1411.5"/>
<use href="#dt" x="1331.8" y="1424.1"/>
<use href="#dt" x="1340.0" y="1436.7"/>
<use href="#dt" x="1348.2" y="1449.3"/>
<use href="#dt" x="1356.4" y="1461.9"/>
<use href="#dt" x="1302.2" y="1346.4"/>
<use href="#dt" x="1310.4" y="1359.0"/>
<use href="#dt" x="1318.6" y="1371.6"/>
<use href="#dt" x="1326.8" y="1384.2"/>
<use href="#dt" x="1335.0" y="1396.8"/>
<use href="#dt" x="1343.2" y="1409.4"/>
<use href="#dt" x="1351.4" y="1422.0"/>
<use href="#dt" x="1359.6" y="1434.6"/>
<use href="#dt" x="1367.8" y="1447.2"/>
<use href="#dt" x="1376.0" y="1459.8"/>
<use href="#dt" x="1321.8" y="1344.3"/>
<use href="#dt" x="1330.0" y="1356.9"/>
<use href="#dt" x="1338.2" y="1369.5"/>
<use href="#dt" x="1346.4" y="1382.1"/>
<use href="#dt" x="1354.6" y="1394.7"/>
<use href="#dt" x="1362.8" y="1407.3"/>
<use href="#dt" x="1371.0" y="1419.9"/>
<use href="#dt" x="1379.2" y="1432.5"/>
<use href="#dt" x="1387.4" y="1445.1"/>
<use href="#dt" x="1395.6" y="1457.7"/>
<use href="#dt" x="1341.4" y="1342.2"/>
<use href="#dt" x="1349.6" y="1354.8"/>
<use href="#dt" x="1357.8" y="1367.4"/>
<use href="#dt" x="1366.0" y="1380.0"/>
<use href="#dt" x="1374.2" y="1392.6"/>
<use href="#dt" x="1382.4" y="1405.2"/>
<use href="#dt" x="1390.6" y="1417.8"/>
<use href="#dt" x="1398.8" y="1430.4"/>
<use href="#dt" x="1407.0" y="1443.0"/>
<use href="#dt" x="1415.2" y="1455.6"/>
<use href="#dt" x="1361.0" y="1340.1"/>
<use href="#dt" x="1369.2" y="1352.7"/>
<use href="#dt" x="1377.4" y="1365.3"/>
<use href="#dt" x="1385.6" y="1377.9"/>
<use href="#dt" x="1393.8" y="1390.5"/>
<use href="#dt" x="1402.0" y="1403.1"/>
<use href="#dt" x="1410.2" y="1415.7"/>
<use href="#dt" x="1418.4" y="1428.3"/>
<use href="#dt" x="1426.6" y="1440.9"/>
<use href="#dt" x="1434.8" y="1453.5"/>
<use href="#dt" x="1380.6" y="1338.0"/>
<use href="#dt" x="1388.8" y="1350.6"/>
<use href="#dt" x="1397.0" y="1363.2"/>
<use href="#dt" x="1405.2" y="1375.8"/>
<use href="#dt" x="1413.4" y="1388.4"/>
<use href="#dt" x="1421.6" y="1401.0"/>
<use href="#dt" x="1429.8" y="1413.6"/>
<use href="#dt" x="1438.0" y="1426.2"/>
<use href="#dt" x="1446.2" y="1438.8"/>
<use href="#dt" x="1454.4" y="1451.4"/>
<use href="#dt" x="1400.2" y="1335.9"/>
<use href="#dt" x="1408.4" y="1348.5"/>
<use href="#dt" x="1416.6" y="1361.1"/>
<use href="#dt" x="1424.8" y="1373.7"/>
<use href="#dt" x="1433.0" y="1386.3"/>
<use href="#dt" x="1441.2" y="1398.9"/>
<use href="#dt" x="1449.4" y="1411.5"/>
<use href="#dt" x="1457.6" y="1424.1"/>
<use href="#dt" x="1465.8" y="1436.7"/>
<use href="#dt" x="1474.0" y="1449.3"/>
<use href="#dt" x="1482.2" y="1461.9"/>
<use href="#dt" x="1428.0" y="1346.4"/>
<use href="#dt" x="1436.2" y="1359.0"/>
<use href="#dt" x="1444.4" y="1371.6"/>
<use href="#dt" x="1452.6" y="1384.2"/>
<use href="#dt" x="1460.8" y="1396.8"/>
<use href="#dt" x="1469.0" y="1409.4"/>
<use href="#dt" x="1477.2" y="1422.0"/>
<use href="#dt" x="1485.4" y="1434.6"/>
<use href="#dt" x="1493.6" y="1447.2"/>
<use href="#dt" x="1447.6" y="1344.3"/>
<use href="#dt" x="1455.8" y="1356.9"/>
<use href="#dt" x="1464.0" y="1369.5"/>
<use href="#dt" x="1472.2" y="1382.1"/>
<use href="#dt" x="1480.4" y="1394.7"/>
<use href="#dt" x="1488.6" y="1407.3"/>
<use href="#dt" x="1496.8" y="1419.9"/>
<use href="#dt" x="1467.2" y="1342.2"/>
<use href="#dt" x="1475.4" y="1354.8"/>
<use href="#dt" x="1483.6" y="1367.4"/>
<use href="#dt" x="1491.8" y="1380.0"/>
<use href="#dt" x="1500.0" y="1392.6"/>
<use href="#dt" x="1486.8" y="1340.1"/>
<use href="#dt" x="1495.0" y="1352.7"/>
</g>
<g clip-path="url(#cNSF)" opacity=".75">
<use href="#dt" x="528.0" y="1475.1"/>
<use href="#dt" x="551.5" y="1477.3"/>
<use href="#dt" x="575.0" y="1479.6"/>
<use href="#dt" x="598.5" y="1475.2"/>
<use href="#dt" x="622.0" y="1477.4"/>
<use href="#dt" x="645.5" y="1479.7"/>
<use href="#dt" x="669.0" y="1475.3"/>
<use href="#dt" x="692.5" y="1477.6"/>
<use href="#dt" x="716.0" y="1479.8"/>
<use href="#dt" x="739.5" y="1475.5"/>
<use href="#dt" x="763.0" y="1477.7"/>
<use href="#dt" x="786.5" y="1480.0"/>
<use href="#dt" x="810.0" y="1475.6"/>
<use href="#dt" x="833.5" y="1477.9"/>
<use href="#dt" x="857.0" y="1480.1"/>
<use href="#dt" x="880.5" y="1475.8"/>
<use href="#dt" x="904.0" y="1478.0"/>
<use href="#dt" x="927.5" y="1480.3"/>
<use href="#dt" x="951.0" y="1475.9"/>
<use href="#dt" x="974.5" y="1478.1"/>
<use href="#dt" x="998.0" y="1480.4"/>
<use href="#dt" x="1021.5" y="1476.0"/>
<use href="#dt" x="1045.0" y="1478.3"/>
<use href="#dt" x="1068.5" y="1480.5"/>
<use href="#dt" x="1092.0" y="1476.2"/>
<use href="#dt" x="1115.5" y="1478.4"/>
<use href="#dt" x="1139.0" y="1480.7"/>
<use href="#dt" x="1162.5" y="1476.3"/>
<use href="#dt" x="1186.0" y="1478.6"/>
<use href="#dt" x="1209.5" y="1480.8"/>
<use href="#dt" x="1233.0" y="1476.5"/>
<use href="#dt" x="1256.5" y="1478.7"/>
<use href="#dt" x="1280.0" y="1481.0"/>
<use href="#dt" x="1303.5" y="1476.6"/>
<use href="#dt" x="1327.0" y="1478.9"/>
<use href="#dt" x="1350.5" y="1481.1"/>
<use href="#dt" x="1374.0" y="1476.7"/>
<use href="#dt" x="1397.5" y="1479.0"/>
<use href="#dt" x="1421.0" y="1481.2"/>
<use href="#dt" x="1444.5" y="1476.9"/>
<use href="#dt" x="1468.0" y="1479.1"/>
<use href="#dt" x="1491.5" y="1481.4"/>
</g>
</g>
<g id="arrows">
<linearGradient id="lg1" gradientUnits="userSpaceOnUse" x1="0" y1="0" x2="0" y2="110"><stop offset="0" stop-color="#a5e2f8" stop-opacity="0.45"/><stop offset="0.6" stop-color="#62c6f0" stop-opacity="0.8625"/><stop offset="1" stop-color="#2f9fe6" stop-opacity="1"/></linearGradient>
<path d="M979,0 C975,40 966,75 952,101 C944,118 933,133 921,145 L910,146 L913,182 L947,177 L938,166 C955,150 968,128 977,101 C988,70 996,35 1000,0 Z" fill="none" stroke="url(#lg1)" stroke-width="7" stroke-linejoin="round" filter="url(#b3)" opacity="0.95"/>
<linearGradient id="lg2" gradientUnits="userSpaceOnUse" x1="0" y1="0" x2="0" y2="110"><stop offset="0" stop-color="#ffffff" stop-opacity="0.45"/><stop offset="1" stop-color="#ffffff" stop-opacity="0.93"/></linearGradient>
<path d="M979,0 C975,40 966,75 952,101 C944,118 933,133 921,145 L910,146 L913,182 L947,177 L938,166 C955,150 968,128 977,101 C988,70 996,35 1000,0 Z" fill="url(#lg2)"/>
<linearGradient id="lg3" gradientUnits="userSpaceOnUse" x1="0" y1="72" x2="0" y2="150"><stop offset="0" stop-color="#a5e2f8" stop-opacity="0.0"/><stop offset="0.6" stop-color="#62c6f0" stop-opacity="0.75"/><stop offset="1" stop-color="#2f9fe6" stop-opacity="1"/></linearGradient>
<path d="M1031,72 C1032,105 1031,135 1028,160 C1026,172 1022,183 1017,191 L1007.5,190 L1013.5,211 L1037.5,204.5 L1030,198 C1037,187 1041,174 1043,160 C1045,135 1045,105 1043,72 Z" fill="none" stroke="url(#lg3)" stroke-width="7" stroke-linejoin="round" filter="url(#b3)" opacity="0.8"/>
<linearGradient id="lg4" gradientUnits="userSpaceOnUse" x1="0" y1="72" x2="0" y2="150"><stop offset="0" stop-color="#ffffff" stop-opacity="0.0"/><stop offset="1" stop-color="#ffffff" stop-opacity="0.85"/></linearGradient>
<path d="M1031,72 C1032,105 1031,135 1028,160 C1026,172 1022,183 1017,191 L1007.5,190 L1013.5,211 L1037.5,204.5 L1030,198 C1037,187 1041,174 1043,160 C1045,135 1045,105 1043,72 Z" fill="url(#lg4)"/>
<linearGradient id="lg5" gradientUnits="userSpaceOnUse" x1="0" y1="53" x2="0" y2="130"><stop offset="0" stop-color="#a5e2f8" stop-opacity="0.0"/><stop offset="0.6" stop-color="#62c6f0" stop-opacity="0.75"/><stop offset="1" stop-color="#2f9fe6" stop-opacity="1"/></linearGradient>
<path d="M1071,53 C1070,72 1069,88 1067,101 C1063,122 1060,140 1059.6,160 C1059.5,182 1063,202 1070,221 L1059.6,227 L1088,239 L1101,212.4 L1089,214 C1082,197 1079,180 1079,160 C1079,140 1081,122 1083,101 C1084,88 1084.5,72 1084,53 Z" fill="none" stroke="url(#lg5)" stroke-width="7" stroke-linejoin="round" filter="url(#b3)" opacity="0.95"/>
<linearGradient id="lg6" gradientUnits="userSpaceOnUse" x1="0" y1="53" x2="0" y2="130"><stop offset="0" stop-color="#ffffff" stop-opacity="0.0"/><stop offset="1" stop-color="#ffffff" stop-opacity="0.93"/></linearGradient>
<path d="M1071,53 C1070,72 1069,88 1067,101 C1063,122 1060,140 1059.6,160 C1059.5,182 1063,202 1070,221 L1059.6,227 L1088,239 L1101,212.4 L1089,214 C1082,197 1079,180 1079,160 C1079,140 1081,122 1083,101 C1084,88 1084.5,72 1084,53 Z" fill="url(#lg6)"/>
<linearGradient id="lg7" gradientUnits="userSpaceOnUse" x1="0" y1="80" x2="0" y2="160"><stop offset="0" stop-color="#a5e2f8" stop-opacity="0.0"/><stop offset="0.6" stop-color="#62c6f0" stop-opacity="0.75"/><stop offset="1" stop-color="#2f9fe6" stop-opacity="1"/></linearGradient>
<path d="M1152.5,80 C1152,110 1153,137 1155,160 C1158,185 1164,207 1174,226 L1165,230 L1194.8,242.6 L1202,216.4 L1191,219 C1181,201 1174,182 1170,160 C1167,137 1166.5,110 1167,80 Z" fill="none" stroke="url(#lg7)" stroke-width="7" stroke-linejoin="round" filter="url(#b3)" opacity="0.95"/>
<linearGradient id="lg8" gradientUnits="userSpaceOnUse" x1="0" y1="80" x2="0" y2="160"><stop offset="0" stop-color="#ffffff" stop-opacity="0.0"/><stop offset="1" stop-color="#ffffff" stop-opacity="0.9"/></linearGradient>
<path d="M1152.5,80 C1152,110 1153,137 1155,160 C1158,185 1164,207 1174,226 L1165,230 L1194.8,242.6 L1202,216.4 L1191,219 C1181,201 1174,182 1170,160 C1167,137 1166.5,110 1167,80 Z" fill="url(#lg8)"/>
<linearGradient id="lg9" gradientUnits="userSpaceOnUse" x1="0" y1="0" x2="0" y2="110"><stop offset="0" stop-color="#a5e2f8" stop-opacity="0.45"/><stop offset="0.6" stop-color="#62c6f0" stop-opacity="0.8625"/><stop offset="1" stop-color="#2f9fe6" stop-opacity="1"/></linearGradient>
<path d="M1160,0 C1168,38 1182,72 1199,101.5 C1208,120 1214,140 1217,160 C1218.5,170 1219,178 1219,184 L1206.5,184.4 L1231,205.7 L1254,180.4 L1241,181.5 C1241,174 1240,167 1239,160 C1236,140 1232,120 1224.7,101.5 C1210,70 1188,36 1176,0 Z" fill="none" stroke="url(#lg9)" stroke-width="7" stroke-linejoin="round" filter="url(#b3)" opacity="0.95"/>
<linearGradient id="lg10" gradientUnits="userSpaceOnUse" x1="0" y1="0" x2="0" y2="110"><stop offset="0" stop-color="#ffffff" stop-opacity="0.45"/><stop offset="1" stop-color="#ffffff" stop-opacity="0.93"/></linearGradient>
<path d="M1160,0 C1168,38 1182,72 1199,101.5 C1208,120 1214,140 1217,160 C1218.5,170 1219,178 1219,184 L1206.5,184.4 L1231,205.7 L1254,180.4 L1241,181.5 C1241,174 1240,167 1239,160 C1236,140 1232,120 1224.7,101.5 C1210,70 1188,36 1176,0 Z" fill="url(#lg10)"/>
<linearGradient id="lg11" gradientUnits="userSpaceOnUse" x1="0" y1="655" x2="0" y2="705.05"><stop offset="0" stop-color="#c0ecf7" stop-opacity="0"/><stop offset="0.6" stop-color="#8fd9ee" stop-opacity="0.7"/><stop offset="1" stop-color="#62c6e6" stop-opacity="1"/></linearGradient>
<path d="M1004.5,655.0 L1038.8,655.0 L1038.8,746.0 L1050.7,746.0 L1021.6,797.0 L992.5,746.0 L1004.5,746.0 Z" fill="none" stroke="url(#lg11)" stroke-width="8" stroke-linejoin="round" filter="url(#b4)" opacity="0.85"/>
<linearGradient id="lg12" gradientUnits="userSpaceOnUse" x1="0" y1="655" x2="0" y2="705.05"><stop offset="0" stop-color="#ffffff" stop-opacity="0"/><stop offset="1" stop-color="#ffffff" stop-opacity="1.0"/></linearGradient>
<path d="M1004.5,655.0 L1038.8,655.0 L1038.8,746.0 L1050.7,746.0 L1021.6,797.0 L992.5,746.0 L1004.5,746.0 Z" fill="url(#lg12)"/>
<linearGradient id="lg13" gradientUnits="userSpaceOnUse" x1="0" y1="627" x2="0" y2="685.8"><stop offset="0" stop-color="#c0ecf7" stop-opacity="0"/><stop offset="0.6" stop-color="#8fd9ee" stop-opacity="0.7"/><stop offset="1" stop-color="#62c6e6" stop-opacity="1"/></linearGradient>
<path d="M1127.0,627.0 L1159.0,627.0 L1159.0,725.0 L1173.0,725.0 L1142.4,775.0 L1113.0,725.0 L1127.0,725.0 Z" fill="none" stroke="url(#lg13)" stroke-width="8" stroke-linejoin="round" filter="url(#b4)" opacity="0.85"/>
<linearGradient id="lg14" gradientUnits="userSpaceOnUse" x1="0" y1="627" x2="0" y2="685.8"><stop offset="0" stop-color="#ffffff" stop-opacity="0"/><stop offset="1" stop-color="#ffffff" stop-opacity="1.0"/></linearGradient>
<path d="M1127.0,627.0 L1159.0,627.0 L1159.0,725.0 L1173.0,725.0 L1142.4,775.0 L1113.0,725.0 L1127.0,725.0 Z" fill="url(#lg14)"/>
<linearGradient id="lg15" gradientUnits="userSpaceOnUse" x1="0" y1="905" x2="0" y2="1061"><stop offset="0" stop-color="#bdeaf7" stop-opacity="0"/><stop offset="0.2503846153846154" stop-color="#7fd4ef" stop-opacity="0.7"/><stop offset="0.41730769230769243" stop-color="#4bbde8" stop-opacity="1"/><stop offset="0.5256410256410257" stop-color="#4bbde8" stop-opacity="1"/><stop offset="0.5705128205128205" stop-color="#1f4f8a" stop-opacity="0.28"/><stop offset="1" stop-color="#1f4f8a" stop-opacity="0.28"/></linearGradient>
<path d="M1030.8,905.0 L1062.7,905.0 L1062.7,1013.5 L1077.4,1013.5 L1046.7,1061.0 L1018.8,1013.5 L1030.8,1013.5 Z" fill="none" stroke="url(#lg15)" stroke-width="8" stroke-linejoin="round" filter="url(#b4)" opacity="0.95"/>
<linearGradient id="lg16" gradientUnits="userSpaceOnUse" x1="0" y1="905" x2="0" y2="970.1"><stop offset="0" stop-color="#ffffff" stop-opacity="0"/><stop offset="1" stop-color="#ffffff" stop-opacity="0.86"/></linearGradient>
<path d="M1030.8,905.0 L1062.7,905.0 L1062.7,1013.5 L1077.4,1013.5 L1046.7,1061.0 L1018.8,1013.5 L1030.8,1013.5 Z" fill="url(#lg16)"/>
<linearGradient id="lg17" gradientUnits="userSpaceOnUse" x1="0" y1="875" x2="0" y2="1023.5"><stop offset="0" stop-color="#bdeaf7" stop-opacity="0"/><stop offset="0.2390303030303029" stop-color="#7fd4ef" stop-opacity="0.7"/><stop offset="0.3983838383838382" stop-color="#4bbde8" stop-opacity="1"/><stop offset="0.7542087542087542" stop-color="#4bbde8" stop-opacity="1"/><stop offset="0.8013468013468014" stop-color="#1f4f8a" stop-opacity="0.28"/><stop offset="1" stop-color="#1f4f8a" stop-opacity="0.28"/></linearGradient>
<path d="M1166.0,875.0 L1199.0,875.0 L1199.0,973.6 L1215.0,973.6 L1182.0,1023.5 L1152.0,973.6 L1166.0,973.6 Z" fill="none" stroke="url(#lg17)" stroke-width="8" stroke-linejoin="round" filter="url(#b4)" opacity="0.95"/>
<linearGradient id="lg18" gradientUnits="userSpaceOnUse" x1="0" y1="875" x2="0" y2="934.16"><stop offset="0" stop-color="#ffffff" stop-opacity="0"/><stop offset="1" stop-color="#ffffff" stop-opacity="0.88"/></linearGradient>
<path d="M1166.0,875.0 L1199.0,875.0 L1199.0,973.6 L1215.0,973.6 L1182.0,1023.5 L1152.0,973.6 L1166.0,973.6 Z" fill="url(#lg18)"/>
<linearGradient id="lg19" gradientUnits="userSpaceOnUse" x1="0" y1="1037" x2="0" y2="1059.825"><stop offset="0" stop-color="#d4d6d9" stop-opacity="0"/><stop offset="1" stop-color="#d4d6d9" stop-opacity="0.9"/></linearGradient>
<path d="M977.8,1037.0 L992.5,1037.0 L992.5,1078.5 L998.9,1078.5 L985.0,1101.0 L971.8,1078.5 L977.8,1078.5 Z" fill="url(#lg19)"/>
<linearGradient id="lg20" gradientUnits="userSpaceOnUse" x1="0" y1="1013.5" x2="0" y2="1035.4450000000002"><stop offset="0" stop-color="#d4d6d9" stop-opacity="0"/><stop offset="1" stop-color="#d4d6d9" stop-opacity="0.9"/></linearGradient>
<path d="M1256.0,1013.5 L1270.8,1013.5 L1270.8,1053.4 L1276.8,1053.4 L1262.8,1077.0 L1248.9,1053.4 L1256.0,1053.4 Z" fill="url(#lg20)"/>
<linearGradient id="lg21" gradientUnits="userSpaceOnUse" x1="0" y1="1262" x2="0" y2="1416"><stop offset="0" stop-color="#bdeaf7" stop-opacity="0"/><stop offset="0.2217857142857141" stop-color="#7fd4ef" stop-opacity="0.7"/><stop offset="0.36964285714285683" stop-color="#4bbde8" stop-opacity="1"/><stop offset="0.44805194805194803" stop-color="#4bbde8" stop-opacity="1"/><stop offset="0.4935064935064935" stop-color="#1f4f8a" stop-opacity="0.3"/><stop offset="1" stop-color="#1f4f8a" stop-opacity="0.3"/></linearGradient>
<path d="M1006.9,1262.0 L1040.4,1262.0 L1040.4,1365.5 L1054.7,1365.5 L1024.4,1416.0 L994.9,1365.5 L1006.9,1365.5 Z" fill="none" stroke="url(#lg21)" stroke-width="8" stroke-linejoin="round" filter="url(#b4)" opacity="0.95"/>
<linearGradient id="lg22" gradientUnits="userSpaceOnUse" x1="0" y1="1262" x2="0" y2="1318.925"><stop offset="0" stop-color="#ffffff" stop-opacity="0"/><stop offset="1" stop-color="#ffffff" stop-opacity="0.86"/></linearGradient>
<path d="M1006.9,1262.0 L1040.4,1262.0 L1040.4,1365.5 L1054.7,1365.5 L1024.4,1416.0 L994.9,1365.5 L1006.9,1365.5 Z" fill="url(#lg22)"/>
<linearGradient id="lg23" gradientUnits="userSpaceOnUse" x1="0" y1="1248" x2="0" y2="1398.6"><stop offset="0" stop-color="#bdeaf7" stop-opacity="0"/><stop offset="0.24000000000000016" stop-color="#7fd4ef" stop-opacity="0.7"/><stop offset="0.4000000000000003" stop-color="#4bbde8" stop-opacity="1"/><stop offset="0.5511288180610893" stop-color="#4bbde8" stop-opacity="1"/><stop offset="0.5976095617529884" stop-color="#1f4f8a" stop-opacity="0.3"/><stop offset="1" stop-color="#1f4f8a" stop-opacity="0.3"/></linearGradient>
<path d="M1164.0,1248.0 L1197.0,1248.0 L1197.0,1348.4 L1210.2,1348.4 L1180.0,1398.6 L1150.4,1348.4 L1164.0,1348.4 Z" fill="none" stroke="url(#lg23)" stroke-width="8" stroke-linejoin="round" filter="url(#b4)" opacity="0.95"/>
<linearGradient id="lg24" gradientUnits="userSpaceOnUse" x1="0" y1="1248" x2="0" y2="1308.24"><stop offset="0" stop-color="#ffffff" stop-opacity="0"/><stop offset="1" stop-color="#ffffff" stop-opacity="0.86"/></linearGradient>
<path d="M1164.0,1248.0 L1197.0,1248.0 L1197.0,1348.4 L1210.2,1348.4 L1180.0,1398.6 L1150.4,1348.4 L1164.0,1348.4 Z" fill="url(#lg24)"/>
<linearGradient id="lg25" gradientUnits="userSpaceOnUse" x1="0" y1="1405" x2="0" y2="1433.8"><stop offset="0" stop-color="#dcdee0" stop-opacity="0"/><stop offset="1" stop-color="#dcdee0" stop-opacity="0.92"/></linearGradient>
<path d="M1098.6,1405.0 L1111.3,1405.0 L1111.3,1453.0 L1118.5,1453.0 L1104.5,1475.0 L1090.6,1453.0 L1098.6,1453.0 Z" fill="url(#lg25)"/>
</g>
<g id="lines">
<rect x="201" y="185.6" width="346.0" height="3.4" fill="#c7bfca"/>
<rect x="10" y="182.0" width="191" height="11.0" fill="#7b607f"/>
<rect x="547" y="185.6" width="50" height="3.4" fill="#8d8597" opacity=".85"/>
<rect x="201" y="453.3" width="466.0" height="3.4" fill="#c7bfca"/>
<rect x="10" y="449.3" width="191" height="11.4" fill="#7b607f"/>
<rect x="201" y="752.3" width="466.0" height="3.4" fill="#c7bfca"/>
<rect x="10" y="748.7" width="191" height="11.4" fill="#7b607f"/>
<rect x="201" y="1012.9" width="403.0" height="3.4" fill="#c5c3c9"/>
<rect x="10" y="1009.4" width="191" height="11.2" fill="#7b607f"/>
<rect x="604" y="1013" width="63" height="3.2" fill="#9a8fa0" opacity=".35"/>
<rect x="201" y="1340.8" width="467.0" height="3.4" fill="#c8c4cc"/>
<rect x="10" y="1337.1" width="191" height="11.5" fill="#7b607f"/>
</g>
<g id="circles">
<circle cx="738.3" cy="456.4" r="72.8" fill="#ffffff" fill-opacity="0.95" stroke="#6b6270" stroke-width="2.4"/>
<g transform="translate(660,380) scale(0.10688)" fill="none" stroke="#6f5a73" stroke-width="36" stroke-linecap="round" stroke-linejoin="round">
<path d="M712,435C712,424 710,392 715,370C720,348 726,322 740,300C754,278 773,255 800,240C827,225 867,213 900,208C933,203 968,203 1000,212C1032,221 1068,239 1090,262C1112,285 1127,322 1135,350C1143,378 1143,405 1140,430C1137,455 1126,480 1115,500C1104,520 1094,528 1075,550C1056,572 1012,621 1000,635"/>
<path d="M757,272C748,268 723,251 700,245C677,239 650,234 620,235C590,236 553,239 520,250C487,261 448,278 420,300C392,322 364,352 350,380C336,408 333,440 333,470C333,500 339,530 350,560C361,590 392,635 400,650"/>
<path d="M343,580C332,590 296,617 280,640C264,663 255,690 250,720C245,750 244,790 248,820C252,850 266,880 275,900C284,920 296,933 300,940"/>
<path d="M1122,522C1135,529 1180,542 1200,565C1220,588 1237,628 1245,660C1253,692 1252,727 1247,760C1242,793 1230,832 1218,860C1206,888 1180,918 1172,930"/>
<path d="M325,775C321,789 304,831 302,860C300,889 303,920 315,950C327,980 346,1017 372,1040C398,1063 432,1080 470,1090C508,1100 563,1101 600,1100C637,1099 675,1085 690,1082"/>
<path d="M325,775C329,788 334,829 350,850C366,871 392,886 420,900C448,914 490,923 520,935C550,947 578,955 600,970C622,985 642,1016 650,1025"/>
<path d="M1125,785C1131,798 1159,838 1163,865C1167,892 1162,922 1150,950C1138,978 1118,1008 1090,1030C1062,1052 1018,1069 980,1080C942,1091 893,1093 860,1096C827,1099 793,1099 780,1100"/>
<path d="M1125,785C1122,798 1122,838 1108,862C1094,886 1068,911 1040,930C1012,949 972,963 940,975C908,987 873,991 850,1000C827,1009 808,1025 800,1030"/>
<path d="M645,615C640,632 622,681 615,720C608,759 600,812 600,850C600,888 610,921 618,950C626,979 645,1012 650,1025"/>
<path d="M645,615C658,632 696,686 722,720C748,754 782,787 800,820C818,853 830,885 832,920C834,955 814,1012 810,1030"/>
<path d="M690,1082 L690,1200 L780,1200 L780,1100" stroke-linejoin="miter"/>
</g>
<circle cx="738.3" cy="758.8" r="73.2" fill="#ffffff" fill-opacity="0.95" stroke="#6b6270" stroke-width="2.4"/>
<g transform="translate(660,680) scale(0.10688)" fill="#7a5f7e">
<path d="M680,352 C655,445 478,670 478,830 C480,950 565,1045 682,1045 C800,1045 885,950 885,830 C887,670 710,445 680,352 Z"/>
<path d="M826,700C832,704 853,767 856,800C859,833 856,870 845,900C834,930 814,960 790,978C766,996 725,1007 700,1010C675,1013 654,1003 642,995C630,987 626,972 630,960C634,948 648,935 665,925C682,915 709,912 730,900C751,888 775,871 790,850C805,829 814,800 820,775C826,750 820,696 826,700Z" fill="#fff"/>
<path d="M1030,203 C1010,270 920,400 920,480 C920,550 968,592 1030,592 C1094,592 1142,548 1142,480 C1142,400 1050,270 1030,203 Z"/>
<path d="M1106,400C1110,402 1119,447 1116,470C1113,493 1102,522 1090,538C1078,554 1056,564 1042,568C1028,572 1011,566 1006,560C1001,554 1003,540 1010,530C1017,520 1037,512 1050,500C1063,488 1081,472 1090,455C1099,438 1102,398 1106,400Z" fill="#fff"/>
<path d="M232,730C233,721 239,705 248,700C257,695 274,693 285,698C296,703 306,718 312,730C318,742 319,758 320,770C321,782 320,802 316,802C312,802 305,776 296,770C287,764 271,770 262,768C253,766 245,761 240,755C235,749 231,739 232,730Z"/>
<path d="M240,915C243,903 250,883 262,875C274,867 294,862 310,865C326,868 343,876 360,890C377,904 395,930 410,950C425,970 455,1010 452,1012C449,1014 410,974 390,965C370,956 349,958 330,958C311,958 289,964 275,962C261,960 251,953 245,945C239,937 237,927 240,915Z"/>
<path d="M1075,855C1073,846 1071,829 1062,822C1053,815 1034,810 1020,812C1006,814 988,824 975,835C962,846 952,864 940,880C928,896 902,929 905,932C908,935 938,906 955,900C972,894 989,897 1005,895C1021,893 1039,893 1050,890C1061,887 1068,881 1072,875C1076,869 1077,864 1075,855Z"/>
<ellipse cx="268" cy="716" rx="16" ry="9" fill="#e9e2ea" transform="rotate(-20 268 716)"/>
<ellipse cx="295" cy="893" rx="24" ry="11" fill="#e9e2ea" transform="rotate(-15 295 893)"/>
<ellipse cx="1030" cy="835" rx="20" ry="10" fill="#e9e2ea" transform="rotate(-10 1030 835)"/>
<rect x="200" y="1085" width="1025" height="50"/>
</g>
<defs><clipPath id="cc3"><circle cx="738" cy="1021.9" r="71"/></clipPath></defs>
<circle cx="738" cy="1021.9" r="71.8" fill="#dfdfe1"/>
<g clip-path="url(#cc3)">
<g transform="translate(660,942) scale(0.10688)">
<path d="M0,470C20,465 87,442 120,440C153,438 177,445 200,455C223,465 238,498 260,500C282,502 308,470 330,465C352,460 370,462 390,470C410,478 428,513 450,515C472,517 498,493 520,480C542,467 558,438 580,435C602,432 627,446 650,460C673,474 695,509 720,520C745,531 770,525 800,525C830,525 870,531 900,522C930,513 957,485 980,470C1003,455 1018,435 1040,432C1062,429 1087,439 1110,450C1133,461 1155,498 1180,500C1205,502 1235,467 1260,465C1285,463 1307,481 1330,490C1353,499 1372,518 1400,520C1428,522 1483,503 1500,500 L1500,0 L0,0 Z" fill="#fafafa"/>
<path d="M-160,600q60,-70 120,0M40,600q60,-70 120,0M240,600q60,-70 120,0M440,600q60,-70 120,0M640,600q60,-70 120,0M840,600q60,-70 120,0M1040,600q60,-70 120,0M1240,600q60,-70 120,0M1440,600q60,-70 120,0M1640,600q60,-70 120,0M-60,695q60,-70 120,0M140,695q60,-70 120,0M340,695q60,-70 120,0M540,695q60,-70 120,0M740,695q60,-70 120,0M940,695q60,-70 120,0M1140,695q60,-70 120,0M1340,695q60,-70 120,0M1540,695q60,-70 120,0M1740,695q60,-70 120,0M-160,790q60,-70 120,0M40,790q60,-70 120,0M240,790q60,-70 120,0M440,790q60,-70 120,0M640,790q60,-70 120,0M840,790q60,-70 120,0M1040,790q60,-70 120,0M1240,790q60,-70 120,0M1440,790q60,-70 120,0M1640,790q60,-70 120,0M-60,885q60,-70 120,0M140,885q60,-70 120,0M340,885q60,-70 120,0M540,885q60,-70 120,0M740,885q60,-70 120,0M940,885q60,-70 120,0M1140,885q60,-70 120,0M1340,885q60,-70 120,0M1540,885q60,-70 120,0M1740,885q60,-70 120,0M-160,980q60,-70 120,0M40,980q60,-70 120,0M240,980q60,-70 120,0M440,980q60,-70 120,0M640,980q60,-70 120,0M840,980q60,-70 120,0M1040,980q60,-70 120,0M1240,980q60,-70 120,0M1440,980q60,-70 120,0M1640,980q60,-70 120,0M-60,1075q60,-70 120,0M140,1075q60,-70 120,0M340,1075q60,-70 120,0M540,1075q60,-70 120,0M740,1075q60,-70 120,0M940,1075q60,-70 120,0M1140,1075q60,-70 120,0M1340,1075q60,-70 120,0M1540,1075q60,-70 120,0M1740,1075q60,-70 120,0M-160,1170q60,-70 120,0M40,1170q60,-70 120,0M240,1170q60,-70 120,0M440,1170q60,-70 120,0M640,1170q60,-70 120,0M840,1170q60,-70 120,0M1040,1170q60,-70 120,0M1240,1170q60,-70 120,0M1440,1170q60,-70 120,0M1640,1170q60,-70 120,0M-60,1265q60,-70 120,0M140,1265q60,-70 120,0M340,1265q60,-70 120,0M540,1265q60,-70 120,0M740,1265q60,-70 120,0M940,1265q60,-70 120,0M1140,1265q60,-70 120,0M1340,1265q60,-70 120,0M1540,1265q60,-70 120,0M1740,1265q60,-70 120,0M-160,1360q60,-70 120,0M40,1360q60,-70 120,0M240,1360q60,-70 120,0M440,1360q60,-70 120,0M640,1360q60,-70 120,0M840,1360q60,-70 120,0M1040,1360q60,-70 120,0M1240,1360q60,-70 120,0M1440,1360q60,-70 120,0M1640,1360q60,-70 120,0" fill="none" stroke="#d4d4d8" stroke-width="26" stroke-linecap="round" opacity=".5"/>
<path d="M-160,572q60,-70 120,0M40,572q60,-70 120,0M240,572q60,-70 120,0M440,572q60,-70 120,0M640,572q60,-70 120,0M840,572q60,-70 120,0M1040,572q60,-70 120,0M1240,572q60,-70 120,0M1440,572q60,-70 120,0M1640,572q60,-70 120,0M-60,667q60,-70 120,0M140,667q60,-70 120,0M340,667q60,-70 120,0M540,667q60,-70 120,0M740,667q60,-70 120,0M940,667q60,-70 120,0M1140,667q60,-70 120,0M1340,667q60,-70 120,0M1540,667q60,-70 120,0M1740,667q60,-70 120,0M-160,762q60,-70 120,0M40,762q60,-70 120,0M240,762q60,-70 120,0M440,762q60,-70 120,0M640,762q60,-70 120,0M840,762q60,-70 120,0M1040,762q60,-70 120,0M1240,762q60,-70 120,0M1440,762q60,-70 120,0M1640,762q60,-70 120,0M-60,857q60,-70 120,0M140,857q60,-70 120,0M340,857q60,-70 120,0M540,857q60,-70 120,0M740,857q60,-70 120,0M940,857q60,-70 120,0M1140,857q60,-70 120,0M1340,857q60,-70 120,0M1540,857q60,-70 120,0M1740,857q60,-70 120,0M-160,952q60,-70 120,0M40,952q60,-70 120,0M240,952q60,-70 120,0M440,952q60,-70 120,0M640,952q60,-70 120,0M840,952q60,-70 120,0M1040,952q60,-70 120,0M1240,952q60,-70 120,0M1440,952q60,-70 120,0M1640,952q60,-70 120,0M-60,1047q60,-70 120,0M140,1047q60,-70 120,0M340,1047q60,-70 120,0M540,1047q60,-70 120,0M740,1047q60,-70 120,0M940,1047q60,-70 120,0M1140,1047q60,-70 120,0M1340,1047q60,-70 120,0M1540,1047q60,-70 120,0M1740,1047q60,-70 120,0M-160,1142q60,-70 120,0M40,1142q60,-70 120,0M240,1142q60,-70 120,0M440,1142q60,-70 120,0M640,1142q60,-70 120,0M840,1142q60,-70 120,0M1040,1142q60,-70 120,0M1240,1142q60,-70 120,0M1440,1142q60,-70 120,0M1640,1142q60,-70 120,0M-60,1237q60,-70 120,0M140,1237q60,-70 120,0M340,1237q60,-70 120,0M540,1237q60,-70 120,0M740,1237q60,-70 120,0M940,1237q60,-70 120,0M1140,1237q60,-70 120,0M1340,1237q60,-70 120,0M1540,1237q60,-70 120,0M1740,1237q60,-70 120,0M-160,1332q60,-70 120,0M40,1332q60,-70 120,0M240,1332q60,-70 120,0M440,1332q60,-70 120,0M640,1332q60,-70 120,0M840,1332q60,-70 120,0M1040,1332q60,-70 120,0M1240,1332q60,-70 120,0M1440,1332q60,-70 120,0M1640,1332q60,-70 120,0" fill="none" stroke="#ededef" stroke-width="16" stroke-linecap="round" opacity=".6"/>
</g>
</g>
<circle cx="738" cy="1021.9" r="71.8" fill="none" stroke="#5f5564" stroke-width="2.3"/>
<g transform="translate(660,942) scale(0.10688)" fill="none" stroke="#75607a" stroke-width="38" stroke-linecap="round" stroke-linejoin="miter">
<path d="M684,324 L781,324 L781,528 L806,528 L731,640 L655,528 L684,528 Z" fill="#f6f6f8"/>
<path d="M731,965 L806,1082 L781,1082 L781,1282 L684,1282 L684,1082 L655,1082 Z" fill="#f6f6f8"/>
<path d="M205,665C249,677 382,720 470,735C558,750 648,756 730,755C812,754 858,753 960,732C1062,711 1281,647 1345,630" stroke-width="42"/>
<path d="M110,965C158,948 297,884 400,862C503,840 630,831 730,830C830,829 898,834 1000,856C1102,878 1283,947 1340,965" stroke-width="42"/>
<path d="M490,755 L490,790 M965,750 L965,786 M250,852 L250,890 M1210,850 L1210,885 M730,770 L730,825" stroke-width="34"/>
<circle cx="120" cy="632" r="8" fill="#75607a" stroke-width="14"/>
</g>
<defs><clipPath id="cc4"><circle cx="737.7" cy="1368.3" r="71.5"/></clipPath><pattern id="dp" x="723.06" y="1300.7" width="17.6" height="17.6" patternUnits="userSpaceOnUse" patternTransform="translate(-4.4,-4.4)"><path d="M0.5,8.3 L8.3,0.5" stroke="#474a52" stroke-width="1.75" stroke-linecap="round"/><path d="M9.3,9.3 L17.1,17.1" stroke="#474a52" stroke-width="1.75" stroke-linecap="round"/></pattern></defs>
<circle cx="737.7" cy="1368.3" r="72" fill="#fdfdfd"/>
<g clip-path="url(#cc4)">
<path d="M660,1346 L690,1339 Q705,1334 718,1333.5 L815,1333.5 L815,1445 L660,1445 Z" fill="#dbdbde"/>
<rect x="660" y="1290" width="160" height="160" fill="url(#dp)"/>
</g>
<circle cx="737.7" cy="1368.3" r="70.3" fill="none" stroke="#f4f6fb" stroke-width="1.6" opacity=".9"/>
<circle cx="737.7" cy="1368.3" r="72.2" fill="none" stroke="#2f4173" stroke-width="3"/>
</g>
<g id="text" font-family="'Liberation Sans',sans-serif">
<text x="8.7" y="104.0" font-size="57.0" font-weight="normal" fill="#53658f" textLength="366.0" lengthAdjust="spacingAndGlyphs" stroke="#53658f" stroke-width="1.70" stroke-linejoin="round">100% Sponge</text>
<text x="7.9" y="173.0" font-size="57.0" font-weight="normal" fill="#53658f" textLength="367.0" lengthAdjust="spacingAndGlyphs" stroke="#53658f" stroke-width="1.70" stroke-linejoin="round">Filled Bolsters</text>
<text x="10.3" y="588.2" font-size="60.0" font-weight="normal" fill="#2b2b2d" textLength="437.4" lengthAdjust="spacingAndGlyphs" stroke="#2b2b2d" stroke-width="0.30" stroke-linejoin="round">Soft Plush Faux Fur</text>
<text x="0.0" y="880.0" font-size="58.0" font-weight="normal" fill="#2b2b2d" textLength="505.0" lengthAdjust="spacingAndGlyphs" stroke="#2b2b2d" stroke-width="0.30" stroke-linejoin="round">TPU Waterproof Layer</text>
<text x="6.8" y="1138.5" font-size="58.0" font-weight="normal" fill="#2b2b2d" textLength="228.3" lengthAdjust="spacingAndGlyphs" stroke="#2b2b2d" stroke-width="0.30" stroke-linejoin="round">Egg Crate</text>
<text x="6.2" y="1216.0" font-size="58.0" font-weight="normal" fill="#2b2b2d" textLength="415.3" lengthAdjust="spacingAndGlyphs" stroke="#2b2b2d" stroke-width="0.30" stroke-linejoin="round">Orthopedic Foam</text>
<text x="6.3" y="1484.7" font-size="58.0" font-weight="normal" fill="#2b2b2d" textLength="429.2" lengthAdjust="spacingAndGlyphs" stroke="#2b2b2d" stroke-width="0.30" stroke-linejoin="round">Non-slip Bottom</text>
</g>
<g id="nums" font-family="'Liberation Serif',serif" font-weight="bold" font-size="68" fill="#586a96" stroke="#586a96" stroke-width="4" stroke-linejoin="miter">
<text transform="translate(11.7,515.0) scale(0.788,1)">01<tspan dy="-7.5">-</tspan></text>
<text transform="translate(7.6,815.0) scale(0.870,1)">02<tspan dy="-7.5">-</tspan></text>
<text transform="translate(7.3,1075.0) scale(0.892,1)">03<tspan dy="-7.5">-</tspan></text>
<text transform="translate(8.1,1418.7) scale(0.872,1)">04<tspan dy="-7.5">-</tspan></text>
</g>
</svg>
</body></html>
